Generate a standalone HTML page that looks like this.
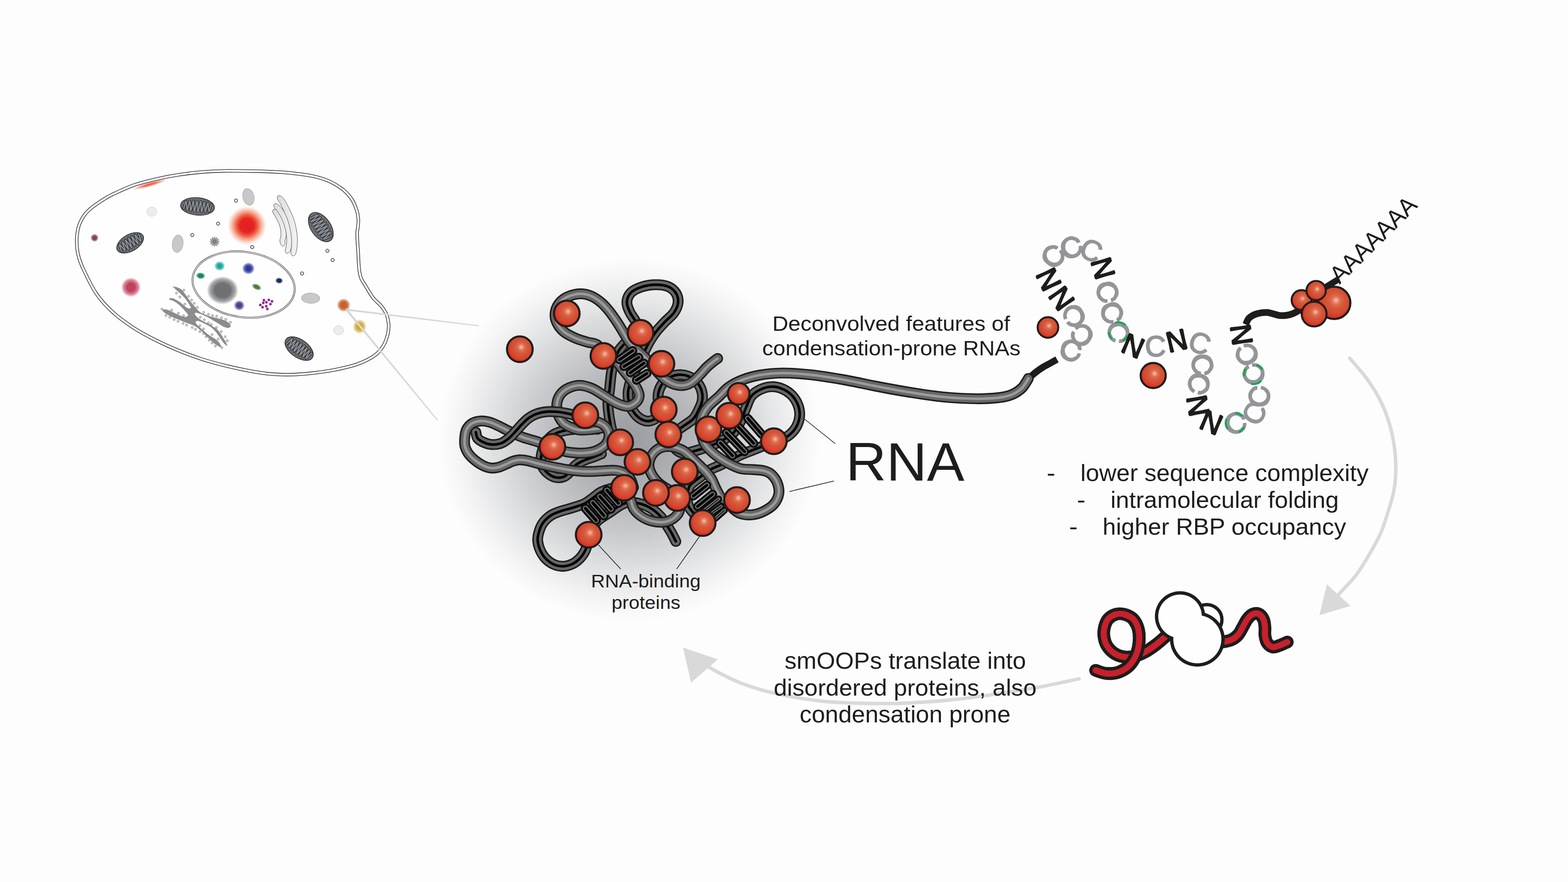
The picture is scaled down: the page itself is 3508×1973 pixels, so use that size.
<!DOCTYPE html><html><head><meta charset="utf-8"><title>Condensation-prone RNAs</title><style>html,body{margin:0;padding:0;background:#fdfdfd}body{width:3508px;height:1973px;overflow:hidden}svg{display:block}</style></head><body><svg width="3508" height="1973" viewBox="0 0 3508 1973"><defs><radialGradient id="gBlob" cx="0.5" cy="0.5" r="0.5"><stop offset="0" stop-color="#999ba0"/><stop offset="0.25" stop-color="#acaeb2"/><stop offset="0.5" stop-color="#c7c8cb"/><stop offset="0.75" stop-color="#e4e5e6"/><stop offset="0.9" stop-color="#f5f5f6"/><stop offset="1" stop-color="#fdfdfd"/></radialGradient><radialGradient id="gStreak"><stop offset="0" stop-color="#f0694e"/><stop offset="0.3" stop-color="#f0694e"/><stop offset="1" stop-color="#f0694e" stop-opacity="0"/></radialGradient><linearGradient id="gGolgi" x1="0" y1="0" x2="1" y2="0"><stop offset="0" stop-color="#dcdcdd"/><stop offset="1" stop-color="#f2f2f2"/></linearGradient><radialGradient id="gRed"><stop offset="0" stop-color="#e41e26"/><stop offset="0.36" stop-color="#e52421"/><stop offset="0.55" stop-color="#ee5a3c" stop-opacity="0.95"/><stop offset="0.8" stop-color="#f4a184" stop-opacity="0.6"/><stop offset="1" stop-color="#f9c9b4" stop-opacity="0"/></radialGradient><radialGradient id="gMauve"><stop offset="0" stop-color="#7c3f62"/><stop offset="0.4" stop-color="#7c3f62"/><stop offset="0.75" stop-color="#7c3f62" stop-opacity="0.6"/><stop offset="1" stop-color="#7c3f62" stop-opacity="0"/></radialGradient><radialGradient id="gPink"><stop offset="0" stop-color="#c1405b"/><stop offset="0.4" stop-color="#c1405b"/><stop offset="0.75" stop-color="#c1405b" stop-opacity="0.6"/><stop offset="1" stop-color="#c1405b" stop-opacity="0"/></radialGradient><radialGradient id="gTeal"><stop offset="0" stop-color="#17a7a0"/><stop offset="0.35" stop-color="#17a7a0"/><stop offset="0.73" stop-color="#17a7a0" stop-opacity="0.6"/><stop offset="1" stop-color="#17a7a0" stop-opacity="0"/></radialGradient><radialGradient id="gBlue"><stop offset="0" stop-color="#2c3a9c"/><stop offset="0.4" stop-color="#2c3a9c"/><stop offset="0.75" stop-color="#2c3a9c" stop-opacity="0.6"/><stop offset="1" stop-color="#2c3a9c" stop-opacity="0"/></radialGradient><radialGradient id="gGreen"><stop offset="0" stop-color="#15845f"/><stop offset="0.45" stop-color="#15845f"/><stop offset="0.78" stop-color="#15845f" stop-opacity="0.6"/><stop offset="1" stop-color="#15845f" stop-opacity="0"/></radialGradient><radialGradient id="gNavy"><stop offset="0" stop-color="#13305c"/><stop offset="0.5" stop-color="#13305c"/><stop offset="0.8" stop-color="#13305c" stop-opacity="0.6"/><stop offset="1" stop-color="#13305c" stop-opacity="0"/></radialGradient><radialGradient id="gOlive"><stop offset="0" stop-color="#4d7a3a"/><stop offset="0.45" stop-color="#4d7a3a"/><stop offset="0.78" stop-color="#4d7a3a" stop-opacity="0.6"/><stop offset="1" stop-color="#4d7a3a" stop-opacity="0"/></radialGradient><radialGradient id="gNucl"><stop offset="0" stop-color="#6f7073"/><stop offset="0.5" stop-color="#6f7073"/><stop offset="0.8" stop-color="#6f7073" stop-opacity="0.6"/><stop offset="1" stop-color="#6f7073" stop-opacity="0"/></radialGradient><radialGradient id="gPurple"><stop offset="0" stop-color="#4b3f8b"/><stop offset="0.4" stop-color="#4b3f8b"/><stop offset="0.75" stop-color="#4b3f8b" stop-opacity="0.6"/><stop offset="1" stop-color="#4b3f8b" stop-opacity="0"/></radialGradient><radialGradient id="gOrange"><stop offset="0" stop-color="#c8622b"/><stop offset="0.45" stop-color="#c8622b"/><stop offset="0.78" stop-color="#c8622b" stop-opacity="0.6"/><stop offset="1" stop-color="#c8622b" stop-opacity="0"/></radialGradient><radialGradient id="gYellow"><stop offset="0" stop-color="#d3a92f"/><stop offset="0.4" stop-color="#d3a92f"/><stop offset="0.75" stop-color="#d3a92f" stop-opacity="0.6"/><stop offset="1" stop-color="#d3a92f" stop-opacity="0"/></radialGradient><radialGradient id="gBall" cx="0.55" cy="0.43" r="0.6" fx="0.555" fy="0.42"><stop offset="0" stop-color="#f7c3ad"/><stop offset="0.07" stop-color="#f0a68d"/><stop offset="0.22" stop-color="#de6d50"/><stop offset="0.42" stop-color="#d6573a"/><stop offset="0.68" stop-color="#d44a30"/><stop offset="0.86" stop-color="#df3022"/><stop offset="1" stop-color="#e4251b"/></radialGradient></defs><rect width="3508" height="1973" fill="#fdfdfd"/>
<ellipse cx="1408" cy="984" rx="428" ry="408" fill="url(#gBlob)"/>
<path d="M171.6 539.9C171.5 531 172.7 522.3 173.9 515.5C175 508.7 176.3 504.8 178.7 499.1C181.1 493.5 184.5 487 188.3 481.7C192.2 476.4 195.5 472.6 201.9 467.2C208.2 461.8 218.4 454.8 226.6 449.4C234.8 444.1 238.9 441.1 251.3 435.1C263.7 429.2 284.4 419.5 301 413.7C317.5 407.9 334.1 404.1 350.7 400.3C367.2 396.5 383.8 393.4 400.4 390.9C417 388.3 433.6 386.3 450.2 384.9C466.8 383.5 479.3 382.7 500 382.4C520.8 382.1 554.1 382.5 574.9 382.9C595.7 383.3 612.4 384.2 624.8 384.9C637.3 385.6 637.2 385.4 649.7 386.9C662.1 388.4 685 390.8 699.4 393.8C713.8 396.9 724.3 400 735.8 405.1C747.3 410.3 759.6 417.9 768.2 424.8C776.8 431.7 782.6 438.9 787.6 446.6C792.6 454.3 795.9 463.6 798.2 470.9C800.6 478.2 801.1 484.6 801.6 490.2C802.1 495.9 801.5 499.8 801.1 504.8C800.7 509.7 799.4 514 799.1 519.9C798.9 525.8 799.3 533.4 799.6 540.1C799.9 546.9 800.5 550.6 801.1 560.2C801.7 569.8 802.1 587.7 803.1 597.8C804.1 607.9 804.9 614.1 807.3 621C809.7 627.8 812.9 631.4 817.5 639C822.2 646.6 829.3 659.2 835.2 666.8C841.1 674.3 847.8 678.2 852.7 684.3C857.7 690.5 862.1 697.3 864.8 703.6C867.6 710 868.4 718.2 869.1 722.5C869.9 726.9 869.9 725.3 869.6 729.8C869.3 734.2 869.2 741.9 867.2 749.2C865.2 756.5 862.4 765.8 857.5 773.5C852.7 781.1 848.1 788.2 838.3 795.1C828.6 802 813.8 809.4 799 814.8C784.2 820.1 766 823.8 749.4 827.2C732.9 830.5 716.3 832.8 699.7 834.6C683.1 836.4 666.5 837.9 650 838.1C633.4 838.3 616.9 837.8 600.3 836.1C583.7 834.5 567.1 831.3 550.5 828.2C533.9 825 517.3 821.3 500.7 817.2C484.1 813 467.5 808.6 450.9 803.2C434.3 797.8 417.7 791.6 401.1 784.8C384.5 778 367.9 770.7 351.3 762.4C334.7 754.1 318.1 745.8 301.6 735.1C285 724.3 266.4 711.1 252 697.9C237.5 684.7 226 672.4 214.9 655.9C203.8 639.4 191.8 613.2 185.1 598.8C178.5 584.4 177.1 579.2 174.8 569.4C172.6 559.5 171.8 548.9 171.6 539.9Z" fill="#fefefe" stroke="#3a3a39" stroke-width="7.5" stroke-linejoin="round"/>
<path d="M171.6 539.9C171.5 531 172.7 522.3 173.9 515.5C175 508.7 176.3 504.8 178.7 499.1C181.1 493.5 184.5 487 188.3 481.7C192.2 476.4 195.5 472.6 201.9 467.2C208.2 461.8 218.4 454.8 226.6 449.4C234.8 444.1 238.9 441.1 251.3 435.1C263.7 429.2 284.4 419.5 301 413.7C317.5 407.9 334.1 404.1 350.7 400.3C367.2 396.5 383.8 393.4 400.4 390.9C417 388.3 433.6 386.3 450.2 384.9C466.8 383.5 479.3 382.7 500 382.4C520.8 382.1 554.1 382.5 574.9 382.9C595.7 383.3 612.4 384.2 624.8 384.9C637.3 385.6 637.2 385.4 649.7 386.9C662.1 388.4 685 390.8 699.4 393.8C713.8 396.9 724.3 400 735.8 405.1C747.3 410.3 759.6 417.9 768.2 424.8C776.8 431.7 782.6 438.9 787.6 446.6C792.6 454.3 795.9 463.6 798.2 470.9C800.6 478.2 801.1 484.6 801.6 490.2C802.1 495.9 801.5 499.8 801.1 504.8C800.7 509.7 799.4 514 799.1 519.9C798.9 525.8 799.3 533.4 799.6 540.1C799.9 546.9 800.5 550.6 801.1 560.2C801.7 569.8 802.1 587.7 803.1 597.8C804.1 607.9 804.9 614.1 807.3 621C809.7 627.8 812.9 631.4 817.5 639C822.2 646.6 829.3 659.2 835.2 666.8C841.1 674.3 847.8 678.2 852.7 684.3C857.7 690.5 862.1 697.3 864.8 703.6C867.6 710 868.4 718.2 869.1 722.5C869.9 726.9 869.9 725.3 869.6 729.8C869.3 734.2 869.2 741.9 867.2 749.2C865.2 756.5 862.4 765.8 857.5 773.5C852.7 781.1 848.1 788.2 838.3 795.1C828.6 802 813.8 809.4 799 814.8C784.2 820.1 766 823.8 749.4 827.2C732.9 830.5 716.3 832.8 699.7 834.6C683.1 836.4 666.5 837.9 650 838.1C633.4 838.3 616.9 837.8 600.3 836.1C583.7 834.5 567.1 831.3 550.5 828.2C533.9 825 517.3 821.3 500.7 817.2C484.1 813 467.5 808.6 450.9 803.2C434.3 797.8 417.7 791.6 401.1 784.8C384.5 778 367.9 770.7 351.3 762.4C334.7 754.1 318.1 745.8 301.6 735.1C285 724.3 266.4 711.1 252 697.9C237.5 684.7 226 672.4 214.9 655.9C203.8 639.4 191.8 613.2 185.1 598.8C178.5 584.4 177.1 579.2 174.8 569.4C172.6 559.5 171.8 548.9 171.6 539.9Z" fill="none" stroke="#fefefe" stroke-width="4.4" stroke-linejoin="round"/>
<ellipse cx="335" cy="412.5" rx="40" ry="5.5" fill="url(#gStreak)" transform="rotate(-16 335 412.5)"/>
<ellipse cx="545" cy="636.6" rx="115" ry="73" transform="rotate(8.4 545 636.6)" fill="#fefefe" stroke="#3a3a39" stroke-width="3.9"/>
<ellipse cx="545" cy="636.6" rx="115" ry="73" transform="rotate(8.4 545 636.6)" fill="none" stroke="#fefefe" stroke-width="1.7"/>
<ellipse cx="555.8" cy="440.5" rx="12.5" ry="19" transform="rotate(-14 555.8 440.5)" fill="#c7c8ca" stroke="#a3a4a6" stroke-width="1"/>
<ellipse cx="397.5" cy="545.2" rx="12" ry="19.5" transform="rotate(8 397.5 545.2)" fill="#c7c8ca" stroke="#a3a4a6" stroke-width="1"/>
<ellipse cx="695" cy="667" rx="20.5" ry="11.5" transform="rotate(2 695 667)" fill="#c7c8ca" stroke="#a3a4a6" stroke-width="1"/>
<ellipse cx="339.5" cy="473.5" rx="11.2" ry="10.4" fill="#ececec" stroke="#d2d2d3" stroke-width="1"/>
<ellipse cx="757.5" cy="738.8" rx="11.2" ry="10.4" fill="#ececec" stroke="#d2d2d3" stroke-width="1"/>
<circle cx="528" cy="448.8" r="3.6" fill="#e6e6dc" stroke="#2e2e2c" stroke-width="1.3"/>
<circle cx="488" cy="500.2" r="3.6" fill="#e6e6dc" stroke="#2e2e2c" stroke-width="1.3"/>
<circle cx="430.2" cy="525.8" r="3.6" fill="#e6e6dc" stroke="#2e2e2c" stroke-width="1.3"/>
<circle cx="564.2" cy="552.8" r="3.6" fill="#e6e6dc" stroke="#2e2e2c" stroke-width="1.3"/>
<circle cx="732.5" cy="561" r="3.6" fill="#e6e6dc" stroke="#2e2e2c" stroke-width="1.3"/>
<circle cx="744.2" cy="581.8" r="3.6" fill="#e6e6dc" stroke="#2e2e2c" stroke-width="1.3"/>
<circle cx="675.8" cy="611.8" r="3.6" fill="#e6e6dc" stroke="#2e2e2c" stroke-width="1.3"/>
<g transform="translate(441.9 461.8) rotate(5)"><ellipse rx="38" ry="19.5" fill="#6e6f72" stroke="#2a2a2a" stroke-width="1.6"/><path d="M-30.4 7.9C-29.7 5 -27.7 -9.5 -26.3 -9.1C-25 -8.7 -23.6 10.3 -22.3 10C-20.9 9.8 -19.6 -11 -18.2 -10.8C-16.9 -10.6 -15.5 11.5 -14.2 11.3C-12.8 11.2 -11.5 -11.8 -10.1 -11.7C-8.8 -11.6 -7.4 12 -6.1 11.9C-4.7 11.9 -3.4 -12.1 -2 -12.1C-0.7 -12.1 0.7 12.1 2 12.1C3.4 12.1 4.7 -11.9 6.1 -11.9C7.4 -12 8.8 11.6 10.1 11.7C11.5 11.8 12.8 -11.2 14.2 -11.3C15.5 -11.5 16.9 10.6 18.2 10.8C19.6 11 20.9 -9.8 22.3 -10C23.6 -10.3 25 8.7 26.3 9.1C27.7 9.5 29.7 -5 30.4 -7.9" fill="none" stroke="#2a2a2a" stroke-width="5.4" stroke-linecap="round" stroke-linejoin="round"/><path d="M-30.4 7.9C-29.7 5 -27.7 -9.5 -26.3 -9.1C-25 -8.7 -23.6 10.3 -22.3 10C-20.9 9.8 -19.6 -11 -18.2 -10.8C-16.9 -10.6 -15.5 11.5 -14.2 11.3C-12.8 11.2 -11.5 -11.8 -10.1 -11.7C-8.8 -11.6 -7.4 12 -6.1 11.9C-4.7 11.9 -3.4 -12.1 -2 -12.1C-0.7 -12.1 0.7 12.1 2 12.1C3.4 12.1 4.7 -11.9 6.1 -11.9C7.4 -12 8.8 11.6 10.1 11.7C11.5 11.8 12.8 -11.2 14.2 -11.3C15.5 -11.5 16.9 10.6 18.2 10.8C19.6 11 20.9 -9.8 22.3 -10C23.6 -10.3 25 8.7 26.3 9.1C27.7 9.5 29.7 -5 30.4 -7.9" fill="none" stroke="#8a9097" stroke-width="2.8" stroke-linecap="round" stroke-linejoin="round"/></g>
<g transform="translate(291.2 543.2) rotate(-30)"><ellipse rx="33" ry="18.5" fill="#6e6f72" stroke="#2a2a2a" stroke-width="1.6"/><path d="M-26.4 7.5C-25.7 4.8 -23.7 -9.2 -22.3 -8.8C-21 -8.4 -19.6 10 -18.3 9.8C-16.9 9.5 -15.6 -10.7 -14.2 -10.5C-12.9 -10.3 -11.5 11.1 -10.2 11C-8.8 10.8 -7.4 -11.4 -6.1 -11.3C-4.7 -11.2 -3.4 11.5 -2 11.5C-0.7 11.4 0.7 -11.4 2 -11.5C3.4 -11.5 4.7 11.2 6.1 11.3C7.4 11.4 8.8 -10.8 10.2 -11C11.5 -11.1 12.9 10.3 14.2 10.5C15.6 10.7 16.9 -9.5 18.3 -9.8C19.6 -10 21 8.4 22.3 8.8C23.7 9.2 25.7 -4.8 26.4 -7.5" fill="none" stroke="#2a2a2a" stroke-width="5.4" stroke-linecap="round" stroke-linejoin="round"/><path d="M-26.4 7.5C-25.7 4.8 -23.7 -9.2 -22.3 -8.8C-21 -8.4 -19.6 10 -18.3 9.8C-16.9 9.5 -15.6 -10.7 -14.2 -10.5C-12.9 -10.3 -11.5 11.1 -10.2 11C-8.8 10.8 -7.4 -11.4 -6.1 -11.3C-4.7 -11.2 -3.4 11.5 -2 11.5C-0.7 11.4 0.7 -11.4 2 -11.5C3.4 -11.5 4.7 11.2 6.1 11.3C7.4 11.4 8.8 -10.8 10.2 -11C11.5 -11.1 12.9 10.3 14.2 10.5C15.6 10.7 16.9 -9.5 18.3 -9.8C19.6 -10 21 8.4 22.3 8.8C23.7 9.2 25.7 -4.8 26.4 -7.5" fill="none" stroke="#8a9097" stroke-width="2.8" stroke-linecap="round" stroke-linejoin="round"/></g>
<g transform="translate(717.8 508) rotate(55)"><ellipse rx="37" ry="22" fill="#6e6f72" stroke="#2a2a2a" stroke-width="1.6"/><path d="M-29.6 8.9C-28.9 5.7 -27 -10.7 -25.7 -10.3C-24.3 -9.9 -23 11.6 -21.7 11.3C-20.4 11 -19.1 -12.4 -17.8 -12.1C-16.4 -11.9 -15.1 12.9 -13.8 12.8C-12.5 12.6 -11.2 -13.3 -9.9 -13.2C-8.6 -13.1 -7.2 13.6 -5.9 13.5C-4.6 13.4 -3.3 -13.6 -2 -13.6C-0.7 -13.6 0.7 13.6 2 13.6C3.3 13.6 4.6 -13.4 5.9 -13.5C7.2 -13.6 8.6 13.1 9.9 13.2C11.2 13.3 12.5 -12.6 13.8 -12.8C15.1 -12.9 16.4 11.9 17.8 12.1C19.1 12.4 20.4 -11 21.7 -11.3C23 -11.6 24.3 9.9 25.7 10.3C27 10.7 28.9 -5.7 29.6 -8.9" fill="none" stroke="#2a2a2a" stroke-width="5.4" stroke-linecap="round" stroke-linejoin="round"/><path d="M-29.6 8.9C-28.9 5.7 -27 -10.7 -25.7 -10.3C-24.3 -9.9 -23 11.6 -21.7 11.3C-20.4 11 -19.1 -12.4 -17.8 -12.1C-16.4 -11.9 -15.1 12.9 -13.8 12.8C-12.5 12.6 -11.2 -13.3 -9.9 -13.2C-8.6 -13.1 -7.2 13.6 -5.9 13.5C-4.6 13.4 -3.3 -13.6 -2 -13.6C-0.7 -13.6 0.7 13.6 2 13.6C3.3 13.6 4.6 -13.4 5.9 -13.5C7.2 -13.6 8.6 13.1 9.9 13.2C11.2 13.3 12.5 -12.6 13.8 -12.8C15.1 -12.9 16.4 11.9 17.8 12.1C19.1 12.4 20.4 -11 21.7 -11.3C23 -11.6 24.3 9.9 25.7 10.3C27 10.7 28.9 -5.7 29.6 -8.9" fill="none" stroke="#8a9097" stroke-width="2.8" stroke-linecap="round" stroke-linejoin="round"/></g>
<g transform="translate(669.2 779.8) rotate(35)"><ellipse rx="36" ry="20" fill="#6e6f72" stroke="#2a2a2a" stroke-width="1.6"/><path d="M-28.8 8.1C-28.2 5.2 -26.2 -9.7 -25 -9.3C-23.7 -9 -22.4 10.6 -21.1 10.3C-19.8 10 -18.6 -11.3 -17.3 -11C-16 -10.8 -14.7 11.8 -13.4 11.6C-12.2 11.4 -10.9 -12.1 -9.6 -12C-8.3 -11.9 -7 12.3 -5.8 12.3C-4.5 12.2 -3.2 -12.4 -1.9 -12.4C-0.6 -12.4 0.6 12.4 1.9 12.4C3.2 12.4 4.5 -12.2 5.8 -12.3C7 -12.3 8.3 11.9 9.6 12C10.9 12.1 12.2 -11.4 13.4 -11.6C14.7 -11.8 16 10.8 17.3 11C18.6 11.3 19.8 -10 21.1 -10.3C22.4 -10.6 23.7 9 25 9.3C26.2 9.7 28.2 -5.2 28.8 -8.1" fill="none" stroke="#2a2a2a" stroke-width="5.4" stroke-linecap="round" stroke-linejoin="round"/><path d="M-28.8 8.1C-28.2 5.2 -26.2 -9.7 -25 -9.3C-23.7 -9 -22.4 10.6 -21.1 10.3C-19.8 10 -18.6 -11.3 -17.3 -11C-16 -10.8 -14.7 11.8 -13.4 11.6C-12.2 11.4 -10.9 -12.1 -9.6 -12C-8.3 -11.9 -7 12.3 -5.8 12.3C-4.5 12.2 -3.2 -12.4 -1.9 -12.4C-0.6 -12.4 0.6 12.4 1.9 12.4C3.2 12.4 4.5 -12.2 5.8 -12.3C7 -12.3 8.3 11.9 9.6 12C10.9 12.1 12.2 -11.4 13.4 -11.6C14.7 -11.8 16 10.8 17.3 11C18.6 11.3 19.8 -10 21.1 -10.3C22.4 -10.6 23.7 9 25 9.3C26.2 9.7 28.2 -5.2 28.8 -8.1" fill="none" stroke="#8a9097" stroke-width="2.8" stroke-linecap="round" stroke-linejoin="round"/></g>
<path d="M611.8 468.5C610.5 469.4 609.8 472.4 610.5 475.2C611.3 478 614.3 481.5 616.4 485.4C618.5 489.3 621.4 493.8 623.3 498.5C625.2 503.2 627 508.8 627.8 513.5C628.7 518.3 628.6 522.9 628.4 527.1C628.1 531.2 626.1 535 626.1 538.4C626.1 541.7 627 544.9 628.3 547C629.5 549.1 632.2 551.2 633.8 551C635.4 550.7 637.1 547.4 637.7 545.5C638.3 543.5 637 542 637.4 539.1C637.8 536.2 639.8 532.6 640.1 527.9C640.5 523.3 640.6 517.1 639.7 511.5C638.7 505.8 636.5 499.3 634.2 494C632 488.7 628.7 483.6 626.1 479.6C623.5 475.6 620.9 471.7 618.5 469.8C616.1 468 613.1 467.6 611.8 468.5Z" fill="url(#gGolgi)" stroke="#4a4a49" stroke-width="1"/>
<path d="M613.6 456.3C612.4 457.4 612.2 460.7 613.3 463.4C614.4 466 617.8 468.6 620.3 472.2C622.8 475.9 625.8 480.4 628.3 485.3C630.8 490.3 633.4 496 635.3 502C637.3 507.9 639.1 514.7 640.1 521C641.1 527.3 641.5 534.1 641.4 539.8C641.3 545.5 639.9 551.6 639.3 555C638.7 558.3 637.7 558.1 637.9 560C638.1 561.9 639 565.9 640.5 566.6C642 567.2 645.4 565.5 647.1 564C648.8 562.5 649.6 561.5 650.7 557.5C651.8 553.6 653.3 546.6 653.6 540.2C653.9 533.8 653.5 526.1 652.4 519C651.3 512 649.4 504.6 647.2 498C645 491.5 642.1 485.1 639.2 479.7C636.3 474.2 632.8 469.1 629.7 465.3C626.6 461.4 623.4 458.1 620.7 456.6C618 455.1 614.9 455.2 613.6 456.3Z" fill="url(#gGolgi)" stroke="#4a4a49" stroke-width="1"/>
<path d="M621.8 438.2C620.3 439.3 619.8 442.8 620.7 445.7C621.6 448.7 624.7 451.2 627.1 455.7C629.5 460.2 632.5 466.7 635.3 472.8C638 478.9 641.4 485.8 643.7 492.3C645.9 498.7 647.5 505 648.9 511.4C650.3 517.8 651.4 524.1 651.9 530.5C652.5 536.9 652.4 543.6 652.2 549.6C652 555.5 650.2 562.4 650.7 566.2C651.2 570 653.4 572.1 655.2 572.3C657 572.6 659.7 571.4 661.3 567.8C662.9 564.1 664.2 556.8 664.8 550.4C665.4 544 665.5 536.5 665.1 529.5C664.6 522.5 663.5 515.6 662.1 508.6C660.6 501.6 658.8 494.6 656.3 487.7C653.9 480.8 650.3 473.6 647.2 467.2C644.2 460.8 640.9 454 637.9 449.3C634.9 444.6 632 441.1 629.3 439.3C626.6 437.4 623.2 437.1 621.8 438.2Z" fill="url(#gGolgi)" stroke="#4a4a49" stroke-width="1"/>
<circle cx="552.5" cy="504.5" r="44" fill="url(#gRed)"/>
<ellipse cx="211.5" cy="532" rx="9" ry="9" fill="url(#gMauve)"/>
<ellipse cx="293" cy="642.5" rx="22" ry="22" fill="url(#gPink)"/>
<ellipse cx="491.5" cy="595" rx="12" ry="11" fill="url(#gTeal)"/>
<ellipse cx="555.8" cy="600.5" rx="14" ry="13.5" fill="url(#gBlue)"/>
<ellipse cx="448.8" cy="616.8" rx="10.5" ry="7.5" fill="url(#gGreen)" transform="rotate(5 448.8 616.8)"/>
<ellipse cx="624.5" cy="627.8" rx="8.5" ry="6.8" fill="url(#gNavy)" transform="rotate(5 624.5 627.8)"/>
<ellipse cx="574.2" cy="641.8" rx="11.5" ry="6.5" fill="url(#gOlive)" transform="rotate(25 574.2 641.8)"/>
<ellipse cx="498" cy="649.5" rx="35.5" ry="31.5" fill="url(#gNucl)"/>
<ellipse cx="535.2" cy="683.2" rx="12" ry="11.5" fill="url(#gPurple)"/>
<ellipse cx="768.8" cy="682.5" rx="15" ry="15" fill="url(#gOrange)"/>
<ellipse cx="804.5" cy="730.5" rx="15" ry="16" fill="url(#gYellow)"/>
<circle cx="590.5" cy="671.5" r="2.9" fill="#93278f"/>
<circle cx="601.5" cy="670.8" r="2.9" fill="#93278f"/>
<circle cx="608.5" cy="674" r="2.9" fill="#93278f"/>
<circle cx="589" cy="677.5" r="2.9" fill="#93278f"/>
<circle cx="596" cy="676.2" r="2.9" fill="#93278f"/>
<circle cx="605" cy="680.2" r="2.9" fill="#93278f"/>
<circle cx="582.5" cy="682.2" r="2.9" fill="#93278f"/>
<circle cx="595.5" cy="685" r="2.9" fill="#93278f"/>
<circle cx="587.5" cy="687.2" r="2.9" fill="#93278f"/>
<circle cx="598.2" cy="691.2" r="2.9" fill="#93278f"/>
<path d="M492.5 540.5L487.9 542.6L490.8 546.8L485.8 546.3L486.2 551.3L482.1 548.4L480 553L477.9 548.4L473.8 551.3L474.2 546.3L469.2 546.8L472.1 542.6L467.5 540.5L472.1 538.4L469.2 534.2L474.2 534.7L473.8 529.7L477.9 532.6L480 528L482.1 532.6L486.2 529.7L485.8 534.7L490.8 534.2L487.9 538.4Z" fill="#9b9c9e"/>
<circle cx="480" cy="540.5" r="5" fill="#808184"/>
<path d="M386.9 640.7C388.3 640.6 394.8 642.1 398.1 643.4C401.4 644.6 404 645.8 406.7 648.2C409.4 650.6 411.7 654.4 414.2 657.8C416.7 661.2 419.2 665.1 421.7 668.5C424.2 671.9 426.6 675.1 429.1 678.1C431.6 681.2 434.3 684 436.6 686.7C438.9 689.4 440.9 692 443 694.2C445.2 696.3 447.1 698.1 449.5 699.5C451.8 700.9 453.9 701.5 457 702.7C460 704 464.1 705.8 467.6 707C471.2 708.2 474.8 708.8 478.3 709.7C481.9 710.6 485.5 711.4 489 712.4C492.6 713.3 496.5 714.3 499.7 715.6C502.9 716.8 505.8 718.2 508.3 719.8C510.8 721.4 513.5 723.6 514.7 725.2C516 726.8 516.1 728.1 515.8 729.5C515.4 730.8 514.3 732.7 512.6 733.2C510.8 733.7 507.6 733.3 505.1 732.7C502.6 732 500.3 730.9 497.6 729.5C494.9 728 492.2 726.1 489 724.1C485.8 722.2 481.9 719.8 478.3 717.7C474.8 715.6 471.2 713.2 467.6 711.3C464.1 709.3 460.5 707.5 457 705.9C453.4 704.3 449.3 702.7 446.3 701.7C443.2 700.6 440.6 699.5 438.8 699.5C437 699.5 435.6 700.4 435.6 701.7C435.6 702.9 437 705 438.8 707C440.6 709 443.2 711.3 446.3 713.4C449.3 715.6 453.4 717.9 457 719.8C460.5 721.8 464.1 723.2 467.6 725.2C471.2 727.1 475 729.3 478.3 731.6C481.7 733.9 485.3 736.4 488 739.1C490.6 741.8 492.4 744.8 494.4 747.6C496.3 750.5 498 753.4 499.7 756.2C501.5 759.1 503.7 762.1 505.1 764.8C506.5 767.4 507.9 770.8 508.3 772.2C508.6 773.7 508.3 773.9 507.2 773.3C506.1 772.8 503.8 771.2 501.9 769C499.9 766.9 497.6 763.5 495.5 760.5C493.3 757.5 491.4 754.1 489 750.9C486.7 747.6 484.2 744.3 481.6 741.2C478.9 738.2 476.2 735.2 473 732.7C469.8 730.2 465.9 728.2 462.3 726.3C458.7 724.3 454.8 722.3 451.6 720.9C448.4 719.5 445.4 717.9 443 717.7C440.7 717.5 438.2 718.6 437.7 719.8C437.2 721.1 438.4 723.2 439.8 725.2C441.3 727.1 443.8 729.3 446.3 731.6C448.8 733.9 452 736.6 454.8 739.1C457.7 741.6 460.3 744.3 463.4 746.6C466.4 748.9 470 751 473 753C476 755 478.9 756.4 481.6 758.3C484.2 760.3 487.1 762.6 489 764.8C491 766.9 492.4 769.2 493.3 771.2C494.2 773.1 495.1 776 494.4 776.5C493.7 777.1 491.2 775.5 489 774.4C486.9 773.3 484.2 772.1 481.6 770.1C478.9 768.1 476 765.5 473 762.6C470 759.8 466.4 756 463.4 753C460.3 750 457.7 747.1 454.8 744.4C452 741.8 449.1 739.3 446.3 737C443.4 734.6 440.6 732.3 437.7 730.5C434.8 728.8 432.2 727.5 429.1 726.3C426.1 725 422.9 724.3 419.5 723C416.1 721.8 412.4 720.2 408.8 718.8C405.3 717.3 401.7 715.9 398.1 714.5C394.6 713.1 391 711.8 387.4 710.2C383.9 708.6 379.9 706.6 376.7 704.9C373.5 703.1 370.4 701.3 368.2 699.5C366 697.7 363.7 695.4 363.4 694.2C363 692.9 364.2 692.2 366 692C367.9 691.9 371.4 692.2 374.6 693.1C377.8 694 381.7 695.8 385.3 697.4C388.9 699 392.6 701.1 396 702.7C399.4 704.3 402.6 705.9 405.6 707C408.6 708.1 411.9 709.1 414.2 709.1C416.5 709.1 418.4 707.9 419.5 707C420.6 706.1 421.1 705.2 420.6 703.8C420.1 702.4 418.1 700.6 416.3 698.4C414.5 696.3 412.4 693.6 409.9 691C407.4 688.3 404.2 684.9 401.3 682.4C398.5 679.9 395.6 677.8 392.8 676C389.9 674.2 386.6 672.7 384.2 671.7C381.8 670.7 378.9 670.9 378.3 670.1C377.8 669.3 379.5 667.3 381 666.9C382.5 666.5 384.9 666.6 387.4 667.4C389.9 668.2 393 669.9 396 671.7C399 673.5 402.6 675.8 405.6 678.1C408.6 680.4 411.5 683.7 414.2 685.6C416.8 687.6 419.5 689.4 421.7 689.9C423.8 690.4 426.5 689.9 427 688.8C427.5 687.8 426.1 685.8 424.9 683.5C423.6 681.2 421.7 678 419.5 674.9C417.4 671.9 414.7 668.3 412 665.3C409.4 662.3 406.3 659.4 403.5 656.7C400.6 654.1 397.2 651.4 394.9 649.3C392.6 647.1 390.9 645.3 389.6 643.9C388.2 642.5 385.5 640.8 386.9 640.7Z" fill="#8b8c8f"/>
<circle cx="411.5" cy="649" r="2.1" fill="#fefefe" stroke="#3a3a3a" stroke-width="0.9"/>
<circle cx="394.7" cy="655.7" r="2.1" fill="#fefefe" stroke="#3a3a3a" stroke-width="0.9"/>
<circle cx="402.4" cy="664.4" r="2.1" fill="#fefefe" stroke="#3a3a3a" stroke-width="0.9"/>
<circle cx="421.7" cy="662.7" r="2.1" fill="#fefefe" stroke="#3a3a3a" stroke-width="0.9"/>
<circle cx="428.6" cy="671.2" r="2.1" fill="#fefefe" stroke="#3a3a3a" stroke-width="0.9"/>
<circle cx="434.5" cy="678.4" r="2.1" fill="#fefefe" stroke="#3a3a3a" stroke-width="0.9"/>
<circle cx="413.6" cy="680.3" r="2.1" fill="#fefefe" stroke="#3a3a3a" stroke-width="0.9"/>
<circle cx="441.4" cy="687.5" r="2.1" fill="#fefefe" stroke="#3a3a3a" stroke-width="0.9"/>
<circle cx="362.3" cy="691.3" r="2.1" fill="#fefefe" stroke="#3a3a3a" stroke-width="0.9"/>
<circle cx="384.2" cy="693.4" r="2.1" fill="#fefefe" stroke="#3a3a3a" stroke-width="0.9"/>
<circle cx="399" cy="700.6" r="2.1" fill="#fefefe" stroke="#3a3a3a" stroke-width="0.9"/>
<circle cx="410.7" cy="706.1" r="2.1" fill="#fefefe" stroke="#3a3a3a" stroke-width="0.9"/>
<circle cx="371.2" cy="705.7" r="2.1" fill="#fefefe" stroke="#3a3a3a" stroke-width="0.9"/>
<circle cx="379.7" cy="709.7" r="2.1" fill="#fefefe" stroke="#3a3a3a" stroke-width="0.9"/>
<circle cx="389.6" cy="715" r="2.1" fill="#fefefe" stroke="#3a3a3a" stroke-width="0.9"/>
<circle cx="398.3" cy="718.8" r="2.1" fill="#fefefe" stroke="#3a3a3a" stroke-width="0.9"/>
<circle cx="409.6" cy="723.3" r="2.1" fill="#fefefe" stroke="#3a3a3a" stroke-width="0.9"/>
<circle cx="417.4" cy="727.3" r="2.1" fill="#fefefe" stroke="#3a3a3a" stroke-width="0.9"/>
<circle cx="430.2" cy="732.5" r="2.1" fill="#fefefe" stroke="#3a3a3a" stroke-width="0.9"/>
<circle cx="437.3" cy="736.7" r="2.1" fill="#fefefe" stroke="#3a3a3a" stroke-width="0.9"/>
<circle cx="447.1" cy="741.8" r="2.1" fill="#fefefe" stroke="#3a3a3a" stroke-width="0.9"/>
<circle cx="455.6" cy="746.4" r="2.1" fill="#fefefe" stroke="#3a3a3a" stroke-width="0.9"/>
<circle cx="461.2" cy="753.2" r="2.1" fill="#fefefe" stroke="#3a3a3a" stroke-width="0.9"/>
<circle cx="468.3" cy="760.7" r="2.1" fill="#fefefe" stroke="#3a3a3a" stroke-width="0.9"/>
<circle cx="474.4" cy="767.1" r="2.1" fill="#fefefe" stroke="#3a3a3a" stroke-width="0.9"/>
<circle cx="481.8" cy="774.2" r="2.1" fill="#fefefe" stroke="#3a3a3a" stroke-width="0.9"/>
<circle cx="496.3" cy="777.6" r="2.1" fill="#fefefe" stroke="#3a3a3a" stroke-width="0.9"/>
<circle cx="455.7" cy="698.7" r="2.1" fill="#fefefe" stroke="#3a3a3a" stroke-width="0.9"/>
<circle cx="466.4" cy="702.9" r="2.1" fill="#fefefe" stroke="#3a3a3a" stroke-width="0.9"/>
<circle cx="475.5" cy="705.7" r="2.1" fill="#fefefe" stroke="#3a3a3a" stroke-width="0.9"/>
<circle cx="484.8" cy="707.3" r="2.1" fill="#fefefe" stroke="#3a3a3a" stroke-width="0.9"/>
<circle cx="495.5" cy="711" r="2.1" fill="#fefefe" stroke="#3a3a3a" stroke-width="0.9"/>
<circle cx="505.3" cy="714.5" r="2.1" fill="#fefefe" stroke="#3a3a3a" stroke-width="0.9"/>
<circle cx="515.5" cy="720.9" r="2.1" fill="#fefefe" stroke="#3a3a3a" stroke-width="0.9"/>
<circle cx="448.2" cy="709.6" r="2.1" fill="#fefefe" stroke="#3a3a3a" stroke-width="0.9"/>
<circle cx="457" cy="715.3" r="2.1" fill="#fefefe" stroke="#3a3a3a" stroke-width="0.9"/>
<circle cx="466.4" cy="722.2" r="2.1" fill="#fefefe" stroke="#3a3a3a" stroke-width="0.9"/>
<circle cx="472.6" cy="725.7" r="2.1" fill="#fefefe" stroke="#3a3a3a" stroke-width="0.9"/>
<circle cx="484.4" cy="732.7" r="2.1" fill="#fefefe" stroke="#3a3a3a" stroke-width="0.9"/>
<circle cx="495.1" cy="741.6" r="2.1" fill="#fefefe" stroke="#3a3a3a" stroke-width="0.9"/>
<circle cx="503.7" cy="753.2" r="2.1" fill="#fefefe" stroke="#3a3a3a" stroke-width="0.9"/>
<circle cx="508.5" cy="762.3" r="2.1" fill="#fefefe" stroke="#3a3a3a" stroke-width="0.9"/>
<circle cx="447.1" cy="728.6" r="2.1" fill="#fefefe" stroke="#3a3a3a" stroke-width="0.9"/>
<circle cx="455.6" cy="735.7" r="2.1" fill="#fefefe" stroke="#3a3a3a" stroke-width="0.9"/>
<circle cx="474.4" cy="748.3" r="2.1" fill="#fefefe" stroke="#3a3a3a" stroke-width="0.9"/>
<circle cx="488" cy="758.6" r="2.1" fill="#fefefe" stroke="#3a3a3a" stroke-width="0.9"/>
<path d="M774 690.5L1071 727.6L1071.3 730L775 694.8Z" fill="#d6d7d8"/>
<path d="M773.3 694.2L777 691.3L979.8 939.2L977.8 940.8Z" fill="#d6d7d8"/>
<path d="M2300 848C2302.8 845.5 2311.2 837.5 2316.9 833C2322.6 828.5 2328.3 824.5 2334 821C2339.7 817.5 2345.9 814.5 2351 811.7C2356.1 808.9 2362.5 805.3 2364.8 804" fill="none" stroke="#1d1d1b" stroke-width="15" stroke-linecap="butt"/>
<g fill="none" stroke-linecap="round" stroke-linejoin="round"><path d="M1345.5 1015.2C1342.8 1016.3 1335.8 1019.3 1328.8 1021.9C1321.9 1024.5 1310.8 1027.9 1303.8 1031.1C1296.9 1034.3 1291.8 1037.1 1287.1 1041.1C1282.4 1045.1 1279.6 1051.1 1275.4 1055.3C1271.3 1059.5 1267.1 1064 1262.1 1066.1C1257.1 1068.3 1250.9 1069.1 1245.4 1068.3C1239.8 1067.5 1233.7 1064.7 1228.7 1061.1C1223.7 1057.6 1218.4 1052.1 1215.3 1046.9C1212.3 1041.8 1210.9 1035.8 1210.3 1030.3C1209.8 1024.7 1210.6 1019.7 1212 1013.6C1213.4 1007.4 1215.9 999.1 1218.7 993.5C1221.4 988 1224.8 984.1 1228.7 980.2C1232.6 976.3 1236.5 972.9 1242 970.2C1247.6 967.4 1254.6 965.1 1262.1 963.5C1269.6 961.8 1278.8 960.8 1287.1 960.1C1295.5 959.4 1303.8 959.3 1312.2 959.3C1320.5 959.3 1333 960 1337.2 960.1" stroke="#1d1d1b" stroke-width="24.2"/><path d="M1345.5 1015.2C1342.8 1016.3 1335.8 1019.3 1328.8 1021.9C1321.9 1024.5 1310.8 1027.9 1303.8 1031.1C1296.9 1034.3 1291.8 1037.1 1287.1 1041.1C1282.4 1045.1 1279.6 1051.1 1275.4 1055.3C1271.3 1059.5 1267.1 1064 1262.1 1066.1C1257.1 1068.3 1250.9 1069.1 1245.4 1068.3C1239.8 1067.5 1233.7 1064.7 1228.7 1061.1C1223.7 1057.6 1218.4 1052.1 1215.3 1046.9C1212.3 1041.8 1210.9 1035.8 1210.3 1030.3C1209.8 1024.7 1210.6 1019.7 1212 1013.6C1213.4 1007.4 1215.9 999.1 1218.7 993.5C1221.4 988 1224.8 984.1 1228.7 980.2C1232.6 976.3 1236.5 972.9 1242 970.2C1247.6 967.4 1254.6 965.1 1262.1 963.5C1269.6 961.8 1278.8 960.8 1287.1 960.1C1295.5 959.4 1303.8 959.3 1312.2 959.3C1320.5 959.3 1333 960 1337.2 960.1" stroke="#676768" stroke-width="17.4"/><path d="M1345.5 1015.2C1342.8 1016.3 1335.8 1019.3 1328.8 1021.9C1321.9 1024.5 1310.8 1027.9 1303.8 1031.1C1296.9 1034.3 1291.8 1037.1 1287.1 1041.1C1282.4 1045.1 1279.6 1051.1 1275.4 1055.3C1271.3 1059.5 1267.1 1064 1262.1 1066.1C1257.1 1068.3 1250.9 1069.1 1245.4 1068.3C1239.8 1067.5 1233.7 1064.7 1228.7 1061.1C1223.7 1057.6 1218.4 1052.1 1215.3 1046.9C1212.3 1041.8 1210.9 1035.8 1210.3 1030.3C1209.8 1024.7 1210.6 1019.7 1212 1013.6C1213.4 1007.4 1215.9 999.1 1218.7 993.5C1221.4 988 1224.8 984.1 1228.7 980.2C1232.6 976.3 1236.5 972.9 1242 970.2C1247.6 967.4 1254.6 965.1 1262.1 963.5C1269.6 961.8 1278.8 960.8 1287.1 960.1C1295.5 959.4 1303.8 959.3 1312.2 959.3C1320.5 959.3 1333 960 1337.2 960.1" stroke="#000000" stroke-width="5.7"/><path d="M1407 757C1405.7 758.7 1402.7 762.6 1399 767C1395.3 771.4 1389 777.4 1385 783.5C1381 789.6 1377.6 796.8 1375 803.5C1372.4 810.2 1371 816.1 1369.5 823.6C1368 831.1 1367 840.4 1366 848.7C1365 857.1 1364.3 866.8 1363.5 873.7C1362.7 880.6 1361.6 884.8 1361 890C1360.4 895.2 1359.8 898.3 1360 905C1360.2 911.7 1361.5 922.5 1362.5 930C1363.5 937.5 1364.8 943.7 1366 950C1367.2 956.3 1369.3 965 1370 968" stroke="#1d1d1b" stroke-width="24.2"/><path d="M1407 757C1405.7 758.7 1402.7 762.6 1399 767C1395.3 771.4 1389 777.4 1385 783.5C1381 789.6 1377.6 796.8 1375 803.5C1372.4 810.2 1371 816.1 1369.5 823.6C1368 831.1 1367 840.4 1366 848.7C1365 857.1 1364.3 866.8 1363.5 873.7C1362.7 880.6 1361.6 884.8 1361 890C1360.4 895.2 1359.8 898.3 1360 905C1360.2 911.7 1361.5 922.5 1362.5 930C1363.5 937.5 1364.8 943.7 1366 950C1367.2 956.3 1369.3 965 1370 968" stroke="#676768" stroke-width="17.4"/><path d="M1407 757C1405.7 758.7 1402.7 762.6 1399 767C1395.3 771.4 1389 777.4 1385 783.5C1381 789.6 1377.6 796.8 1375 803.5C1372.4 810.2 1371 816.1 1369.5 823.6C1368 831.1 1367 840.4 1366 848.7C1365 857.1 1364.3 866.8 1363.5 873.7C1362.7 880.6 1361.6 884.8 1361 890C1360.4 895.2 1359.8 898.3 1360 905C1360.2 911.7 1361.5 922.5 1362.5 930C1363.5 937.5 1364.8 943.7 1366 950C1367.2 956.3 1369.3 965 1370 968" stroke="#000000" stroke-width="5.7"/><path d="M1428 815C1426.3 818.3 1421 828.3 1418 835C1415 841.7 1412.2 847.5 1410 855C1407.8 862.5 1405.2 871.7 1405 880C1404.8 888.3 1406.5 897.5 1409 905C1411.5 912.5 1415.7 919.5 1420 925C1424.3 930.5 1429.7 935.2 1435 938C1440.3 940.8 1446.2 942.7 1452 942C1457.8 941.3 1464.8 938 1470 934C1475.2 930 1480.8 920.7 1483 918" stroke="#1d1d1b" stroke-width="24.2"/><path d="M1428 815C1426.3 818.3 1421 828.3 1418 835C1415 841.7 1412.2 847.5 1410 855C1407.8 862.5 1405.2 871.7 1405 880C1404.8 888.3 1406.5 897.5 1409 905C1411.5 912.5 1415.7 919.5 1420 925C1424.3 930.5 1429.7 935.2 1435 938C1440.3 940.8 1446.2 942.7 1452 942C1457.8 941.3 1464.8 938 1470 934C1475.2 930 1480.8 920.7 1483 918" stroke="#676768" stroke-width="17.4"/><path d="M1428 815C1426.3 818.3 1421 828.3 1418 835C1415 841.7 1412.2 847.5 1410 855C1407.8 862.5 1405.2 871.7 1405 880C1404.8 888.3 1406.5 897.5 1409 905C1411.5 912.5 1415.7 919.5 1420 925C1424.3 930.5 1429.7 935.2 1435 938C1440.3 940.8 1446.2 942.7 1452 942C1457.8 941.3 1464.8 938 1470 934C1475.2 930 1480.8 920.7 1483 918" stroke="#000000" stroke-width="5.7"/><path d="M1485 918C1484 917.1 1480.8 916.5 1478.8 912.9C1476.8 909.3 1473.9 902.2 1472.9 896.6C1471.9 891 1471.9 885 1472.9 879.4C1473.9 873.8 1476 868 1478.8 863.1C1481.6 858.2 1485.6 853.5 1489.9 849.9C1494.2 846.2 1499.6 843.2 1504.9 841.2C1510.2 839.2 1516.2 838.2 1521.9 838.2C1527.6 838.2 1533.6 839.2 1538.9 841.2C1544.2 843.2 1549.6 846.2 1553.9 849.9C1558.2 853.5 1562.2 858.2 1565 863.1C1567.8 868 1569.9 873.8 1570.9 879.4C1571.9 885 1571.9 891 1570.9 896.6C1569.9 902.2 1568.2 906.3 1565 912.9C1561.8 919.5 1557.8 929.4 1552 936C1546.2 942.6 1537.4 947.2 1530 952.5C1522.6 957.8 1513.3 963.9 1507.5 967.5C1501.7 971.1 1497.1 972.9 1495 974" stroke="#1d1d1b" stroke-width="24.2"/><path d="M1485 918C1484 917.1 1480.8 916.5 1478.8 912.9C1476.8 909.3 1473.9 902.2 1472.9 896.6C1471.9 891 1471.9 885 1472.9 879.4C1473.9 873.8 1476 868 1478.8 863.1C1481.6 858.2 1485.6 853.5 1489.9 849.9C1494.2 846.2 1499.6 843.2 1504.9 841.2C1510.2 839.2 1516.2 838.2 1521.9 838.2C1527.6 838.2 1533.6 839.2 1538.9 841.2C1544.2 843.2 1549.6 846.2 1553.9 849.9C1558.2 853.5 1562.2 858.2 1565 863.1C1567.8 868 1569.9 873.8 1570.9 879.4C1571.9 885 1571.9 891 1570.9 896.6C1569.9 902.2 1568.2 906.3 1565 912.9C1561.8 919.5 1557.8 929.4 1552 936C1546.2 942.6 1537.4 947.2 1530 952.5C1522.6 957.8 1513.3 963.9 1507.5 967.5C1501.7 971.1 1497.1 972.9 1495 974" stroke="#676768" stroke-width="17.4"/><path d="M1485 918C1484 917.1 1480.8 916.5 1478.8 912.9C1476.8 909.3 1473.9 902.2 1472.9 896.6C1471.9 891 1471.9 885 1472.9 879.4C1473.9 873.8 1476 868 1478.8 863.1C1481.6 858.2 1485.6 853.5 1489.9 849.9C1494.2 846.2 1499.6 843.2 1504.9 841.2C1510.2 839.2 1516.2 838.2 1521.9 838.2C1527.6 838.2 1533.6 839.2 1538.9 841.2C1544.2 843.2 1549.6 846.2 1553.9 849.9C1558.2 853.5 1562.2 858.2 1565 863.1C1567.8 868 1569.9 873.8 1570.9 879.4C1571.9 885 1571.9 891 1570.9 896.6C1569.9 902.2 1568.2 906.3 1565 912.9C1561.8 919.5 1557.8 929.4 1552 936C1546.2 942.6 1537.4 947.2 1530 952.5C1522.6 957.8 1513.3 963.9 1507.5 967.5C1501.7 971.1 1497.1 972.9 1495 974" stroke="#000000" stroke-width="5.7"/><path d="M1435 750C1432.9 745 1426.9 728.8 1422.5 720C1418.1 711.2 1412.1 705 1408.8 697.5C1405.4 690 1401.9 682.3 1402.5 675C1403.1 667.7 1406.7 659.4 1412.5 653.8C1418.3 648.1 1428.3 644.1 1437.5 641.2C1446.7 638.4 1457.9 636.8 1467.5 636.8C1477.1 636.8 1487.5 638 1495 641.2C1502.5 644.5 1508.8 650.2 1512.5 656.2C1516.2 662.3 1517.8 670.2 1517 677.5C1516.2 684.8 1512.4 692.9 1507.5 700C1502.6 707.1 1494.2 712.9 1487.5 720C1480.8 727.1 1473.3 735 1467.5 742.5C1461.7 750 1456.7 757.9 1452.5 765C1448.3 772.1 1445.4 779.2 1442.5 785C1439.6 790.8 1436.2 797.5 1435 800" stroke="#1d1d1b" stroke-width="24.2"/><path d="M1435 750C1432.9 745 1426.9 728.8 1422.5 720C1418.1 711.2 1412.1 705 1408.8 697.5C1405.4 690 1401.9 682.3 1402.5 675C1403.1 667.7 1406.7 659.4 1412.5 653.8C1418.3 648.1 1428.3 644.1 1437.5 641.2C1446.7 638.4 1457.9 636.8 1467.5 636.8C1477.1 636.8 1487.5 638 1495 641.2C1502.5 644.5 1508.8 650.2 1512.5 656.2C1516.2 662.3 1517.8 670.2 1517 677.5C1516.2 684.8 1512.4 692.9 1507.5 700C1502.6 707.1 1494.2 712.9 1487.5 720C1480.8 727.1 1473.3 735 1467.5 742.5C1461.7 750 1456.7 757.9 1452.5 765C1448.3 772.1 1445.4 779.2 1442.5 785C1439.6 790.8 1436.2 797.5 1435 800" stroke="#676768" stroke-width="17.4"/><path d="M1435 750C1432.9 745 1426.9 728.8 1422.5 720C1418.1 711.2 1412.1 705 1408.8 697.5C1405.4 690 1401.9 682.3 1402.5 675C1403.1 667.7 1406.7 659.4 1412.5 653.8C1418.3 648.1 1428.3 644.1 1437.5 641.2C1446.7 638.4 1457.9 636.8 1467.5 636.8C1477.1 636.8 1487.5 638 1495 641.2C1502.5 644.5 1508.8 650.2 1512.5 656.2C1516.2 662.3 1517.8 670.2 1517 677.5C1516.2 684.8 1512.4 692.9 1507.5 700C1502.6 707.1 1494.2 712.9 1487.5 720C1480.8 727.1 1473.3 735 1467.5 742.5C1461.7 750 1456.7 757.9 1452.5 765C1448.3 772.1 1445.4 779.2 1442.5 785C1439.6 790.8 1436.2 797.5 1435 800" stroke="#000000" stroke-width="5.7"/><path d="M1390 1085C1386.8 1086.1 1376.8 1089.6 1371 1091.5C1365.2 1093.4 1359.8 1094.5 1355 1096.2C1350.2 1098 1347 1098.9 1342 1102C1337 1105.1 1330.6 1111 1325 1115C1319.4 1119 1314.3 1123.2 1308.5 1126.2C1302.7 1129.2 1295.5 1131.1 1290 1133C1284.5 1134.9 1281.8 1135.6 1275.5 1137.5C1269.2 1139.4 1259.9 1141.5 1252.5 1144.2C1245.1 1147 1237.7 1149.2 1231.2 1153.8C1224.8 1158.2 1218.1 1164.8 1213.8 1171.2C1209.4 1177.7 1206.8 1186 1205 1192.5C1203.2 1199 1202.4 1203.5 1203 1210C1203.6 1216.5 1205.7 1224.6 1208.8 1231.2C1211.8 1237.9 1216 1244.7 1221.2 1250C1226.5 1255.3 1233.5 1260.2 1240 1263C1246.5 1265.8 1253.1 1267 1260 1266.8C1266.9 1266.5 1275 1264.2 1281.2 1261.2C1287.5 1258.2 1292.9 1253.5 1297.5 1248.8C1302.1 1244 1305.8 1238.5 1308.8 1232.5C1311.8 1226.5 1313.2 1220 1315.5 1212.5C1317.8 1205 1319.1 1195.3 1322.5 1187.5C1325.9 1179.7 1329.2 1172.5 1336 1165.8C1342.8 1159 1354.8 1152.7 1363.5 1146.8C1372.2 1140.8 1381.2 1133.8 1388.2 1130C1395.3 1126.2 1399.9 1124.6 1406 1123.8C1412.1 1122.9 1418.5 1123.8 1425 1125C1431.5 1126.2 1438.8 1128.5 1445 1131.2C1451.2 1134 1457.1 1137.3 1462.5 1141.2C1467.9 1145.2 1472.9 1149.8 1477.5 1155C1482.1 1160.2 1485.8 1166.2 1490 1172.5C1494.2 1178.8 1498.8 1186 1502.5 1192.5C1506.2 1199 1510.4 1208.1 1512 1211.2" stroke="#1d1d1b" stroke-width="24.2"/><path d="M1390 1085C1386.8 1086.1 1376.8 1089.6 1371 1091.5C1365.2 1093.4 1359.8 1094.5 1355 1096.2C1350.2 1098 1347 1098.9 1342 1102C1337 1105.1 1330.6 1111 1325 1115C1319.4 1119 1314.3 1123.2 1308.5 1126.2C1302.7 1129.2 1295.5 1131.1 1290 1133C1284.5 1134.9 1281.8 1135.6 1275.5 1137.5C1269.2 1139.4 1259.9 1141.5 1252.5 1144.2C1245.1 1147 1237.7 1149.2 1231.2 1153.8C1224.8 1158.2 1218.1 1164.8 1213.8 1171.2C1209.4 1177.7 1206.8 1186 1205 1192.5C1203.2 1199 1202.4 1203.5 1203 1210C1203.6 1216.5 1205.7 1224.6 1208.8 1231.2C1211.8 1237.9 1216 1244.7 1221.2 1250C1226.5 1255.3 1233.5 1260.2 1240 1263C1246.5 1265.8 1253.1 1267 1260 1266.8C1266.9 1266.5 1275 1264.2 1281.2 1261.2C1287.5 1258.2 1292.9 1253.5 1297.5 1248.8C1302.1 1244 1305.8 1238.5 1308.8 1232.5C1311.8 1226.5 1313.2 1220 1315.5 1212.5C1317.8 1205 1319.1 1195.3 1322.5 1187.5C1325.9 1179.7 1329.2 1172.5 1336 1165.8C1342.8 1159 1354.8 1152.7 1363.5 1146.8C1372.2 1140.8 1381.2 1133.8 1388.2 1130C1395.3 1126.2 1399.9 1124.6 1406 1123.8C1412.1 1122.9 1418.5 1123.8 1425 1125C1431.5 1126.2 1438.8 1128.5 1445 1131.2C1451.2 1134 1457.1 1137.3 1462.5 1141.2C1467.9 1145.2 1472.9 1149.8 1477.5 1155C1482.1 1160.2 1485.8 1166.2 1490 1172.5C1494.2 1178.8 1498.8 1186 1502.5 1192.5C1506.2 1199 1510.4 1208.1 1512 1211.2" stroke="#676768" stroke-width="17.4"/><path d="M1390 1085C1386.8 1086.1 1376.8 1089.6 1371 1091.5C1365.2 1093.4 1359.8 1094.5 1355 1096.2C1350.2 1098 1347 1098.9 1342 1102C1337 1105.1 1330.6 1111 1325 1115C1319.4 1119 1314.3 1123.2 1308.5 1126.2C1302.7 1129.2 1295.5 1131.1 1290 1133C1284.5 1134.9 1281.8 1135.6 1275.5 1137.5C1269.2 1139.4 1259.9 1141.5 1252.5 1144.2C1245.1 1147 1237.7 1149.2 1231.2 1153.8C1224.8 1158.2 1218.1 1164.8 1213.8 1171.2C1209.4 1177.7 1206.8 1186 1205 1192.5C1203.2 1199 1202.4 1203.5 1203 1210C1203.6 1216.5 1205.7 1224.6 1208.8 1231.2C1211.8 1237.9 1216 1244.7 1221.2 1250C1226.5 1255.3 1233.5 1260.2 1240 1263C1246.5 1265.8 1253.1 1267 1260 1266.8C1266.9 1266.5 1275 1264.2 1281.2 1261.2C1287.5 1258.2 1292.9 1253.5 1297.5 1248.8C1302.1 1244 1305.8 1238.5 1308.8 1232.5C1311.8 1226.5 1313.2 1220 1315.5 1212.5C1317.8 1205 1319.1 1195.3 1322.5 1187.5C1325.9 1179.7 1329.2 1172.5 1336 1165.8C1342.8 1159 1354.8 1152.7 1363.5 1146.8C1372.2 1140.8 1381.2 1133.8 1388.2 1130C1395.3 1126.2 1399.9 1124.6 1406 1123.8C1412.1 1122.9 1418.5 1123.8 1425 1125C1431.5 1126.2 1438.8 1128.5 1445 1131.2C1451.2 1134 1457.1 1137.3 1462.5 1141.2C1467.9 1145.2 1472.9 1149.8 1477.5 1155C1482.1 1160.2 1485.8 1166.2 1490 1172.5C1494.2 1178.8 1498.8 1186 1502.5 1192.5C1506.2 1199 1510.4 1208.1 1512 1211.2" stroke="#000000" stroke-width="5.7"/><path d="M1495 975C1496.3 977.8 1500.2 987 1503 992C1505.8 997 1508.7 1001.6 1512 1005C1515.3 1008.4 1518.8 1011 1522.6 1012.5C1526.4 1014 1530.4 1014.4 1535 1014C1539.6 1013.6 1543.3 1011.9 1550 1010C1556.7 1008.1 1566.7 1005.3 1575 1002.5C1583.3 999.7 1592.5 996.2 1600 993C1607.5 989.8 1613 987.3 1620 983C1627 978.7 1635.7 974.2 1642 967C1648.3 959.8 1653.5 949.2 1658 940C1662.5 930.8 1665.2 920.9 1669 912C1672.8 903.1 1675.2 893.4 1680.5 886.7C1685.8 880 1693 875.3 1700.5 871.7C1708 868.1 1717.2 865.3 1725.5 865C1733.8 864.7 1742.8 866.7 1750.6 870C1758.4 873.3 1766.5 878.9 1772.3 885C1778.1 891.1 1782.8 899.3 1785.6 906.8C1788.4 914.3 1789.5 922.2 1789 930C1788.5 937.8 1785.9 946.5 1782.3 953.5C1778.7 960.5 1773.1 966.9 1767.3 971.9C1761.5 976.9 1753.2 981.1 1747.2 983.6C1741.2 986.1 1737.8 984.8 1731.4 987C1725 989.2 1716.7 993.7 1708.8 997C1700.9 1000.3 1692.1 1003.7 1683.8 1007C1675.5 1010.3 1666.1 1013.8 1658.8 1017C1651.5 1020.2 1647.7 1022.2 1640 1026C1632.3 1029.8 1621.2 1035.8 1612.5 1040C1603.8 1044.2 1595.2 1046.8 1588 1051C1580.8 1055.2 1574.7 1060.9 1569.2 1065C1563.7 1069.1 1559.3 1072.2 1555 1075.8C1550.7 1079.3 1546.1 1082.2 1543.4 1086.3C1540.7 1090.4 1539.7 1095.1 1538.7 1100.4C1537.7 1105.7 1537.1 1112.5 1537.5 1118C1537.9 1123.5 1538.8 1128.6 1541 1133.3C1543.2 1138 1546.9 1141.9 1550.4 1146.2C1553.9 1150.5 1558.4 1155 1562 1159C1565.6 1163 1570.3 1168.2 1572 1170" stroke="#1d1d1b" stroke-width="24.2"/><path d="M1495 975C1496.3 977.8 1500.2 987 1503 992C1505.8 997 1508.7 1001.6 1512 1005C1515.3 1008.4 1518.8 1011 1522.6 1012.5C1526.4 1014 1530.4 1014.4 1535 1014C1539.6 1013.6 1543.3 1011.9 1550 1010C1556.7 1008.1 1566.7 1005.3 1575 1002.5C1583.3 999.7 1592.5 996.2 1600 993C1607.5 989.8 1613 987.3 1620 983C1627 978.7 1635.7 974.2 1642 967C1648.3 959.8 1653.5 949.2 1658 940C1662.5 930.8 1665.2 920.9 1669 912C1672.8 903.1 1675.2 893.4 1680.5 886.7C1685.8 880 1693 875.3 1700.5 871.7C1708 868.1 1717.2 865.3 1725.5 865C1733.8 864.7 1742.8 866.7 1750.6 870C1758.4 873.3 1766.5 878.9 1772.3 885C1778.1 891.1 1782.8 899.3 1785.6 906.8C1788.4 914.3 1789.5 922.2 1789 930C1788.5 937.8 1785.9 946.5 1782.3 953.5C1778.7 960.5 1773.1 966.9 1767.3 971.9C1761.5 976.9 1753.2 981.1 1747.2 983.6C1741.2 986.1 1737.8 984.8 1731.4 987C1725 989.2 1716.7 993.7 1708.8 997C1700.9 1000.3 1692.1 1003.7 1683.8 1007C1675.5 1010.3 1666.1 1013.8 1658.8 1017C1651.5 1020.2 1647.7 1022.2 1640 1026C1632.3 1029.8 1621.2 1035.8 1612.5 1040C1603.8 1044.2 1595.2 1046.8 1588 1051C1580.8 1055.2 1574.7 1060.9 1569.2 1065C1563.7 1069.1 1559.3 1072.2 1555 1075.8C1550.7 1079.3 1546.1 1082.2 1543.4 1086.3C1540.7 1090.4 1539.7 1095.1 1538.7 1100.4C1537.7 1105.7 1537.1 1112.5 1537.5 1118C1537.9 1123.5 1538.8 1128.6 1541 1133.3C1543.2 1138 1546.9 1141.9 1550.4 1146.2C1553.9 1150.5 1558.4 1155 1562 1159C1565.6 1163 1570.3 1168.2 1572 1170" stroke="#676768" stroke-width="17.4"/><path d="M1495 975C1496.3 977.8 1500.2 987 1503 992C1505.8 997 1508.7 1001.6 1512 1005C1515.3 1008.4 1518.8 1011 1522.6 1012.5C1526.4 1014 1530.4 1014.4 1535 1014C1539.6 1013.6 1543.3 1011.9 1550 1010C1556.7 1008.1 1566.7 1005.3 1575 1002.5C1583.3 999.7 1592.5 996.2 1600 993C1607.5 989.8 1613 987.3 1620 983C1627 978.7 1635.7 974.2 1642 967C1648.3 959.8 1653.5 949.2 1658 940C1662.5 930.8 1665.2 920.9 1669 912C1672.8 903.1 1675.2 893.4 1680.5 886.7C1685.8 880 1693 875.3 1700.5 871.7C1708 868.1 1717.2 865.3 1725.5 865C1733.8 864.7 1742.8 866.7 1750.6 870C1758.4 873.3 1766.5 878.9 1772.3 885C1778.1 891.1 1782.8 899.3 1785.6 906.8C1788.4 914.3 1789.5 922.2 1789 930C1788.5 937.8 1785.9 946.5 1782.3 953.5C1778.7 960.5 1773.1 966.9 1767.3 971.9C1761.5 976.9 1753.2 981.1 1747.2 983.6C1741.2 986.1 1737.8 984.8 1731.4 987C1725 989.2 1716.7 993.7 1708.8 997C1700.9 1000.3 1692.1 1003.7 1683.8 1007C1675.5 1010.3 1666.1 1013.8 1658.8 1017C1651.5 1020.2 1647.7 1022.2 1640 1026C1632.3 1029.8 1621.2 1035.8 1612.5 1040C1603.8 1044.2 1595.2 1046.8 1588 1051C1580.8 1055.2 1574.7 1060.9 1569.2 1065C1563.7 1069.1 1559.3 1072.2 1555 1075.8C1550.7 1079.3 1546.1 1082.2 1543.4 1086.3C1540.7 1090.4 1539.7 1095.1 1538.7 1100.4C1537.7 1105.7 1537.1 1112.5 1537.5 1118C1537.9 1123.5 1538.8 1128.6 1541 1133.3C1543.2 1138 1546.9 1141.9 1550.4 1146.2C1553.9 1150.5 1558.4 1155 1562 1159C1565.6 1163 1570.3 1168.2 1572 1170" stroke="#000000" stroke-width="5.7"/><path d="M1368 800C1370 801.7 1376 805.8 1380.3 810.3C1384.6 814.8 1389.1 821.4 1393.6 827C1398 832.6 1402.8 838.4 1407 843.7C1411.2 849 1415.3 853.7 1418.6 858.7C1421.9 863.7 1425.1 869.2 1427 873.7C1428.9 878.2 1430.5 881.8 1430 886C1429.5 890.2 1428.2 895.2 1424 899C1419.8 902.8 1412.3 908.5 1405 909C1397.7 909.5 1389.2 906.2 1380 902C1370.8 897.8 1359.2 889.5 1350 884C1340.8 878.5 1333.8 872.7 1325 869C1316.2 865.3 1306.3 862.2 1297.5 862C1288.7 861.8 1279.2 864.7 1272 868C1264.8 871.3 1258.3 876.3 1254 882C1249.7 887.7 1247 894.8 1246 902C1245 909.2 1245.8 917.8 1248 925C1250.2 932.2 1254.5 940 1259 945C1263.5 950 1268.9 952.2 1275 955C1281.1 957.8 1287.9 960.8 1295.5 961.8C1303.1 962.8 1312.2 961.7 1320.5 961C1328.8 960.3 1341.3 958.2 1345.5 957.6" stroke="#1d1d1b" stroke-width="24.2"/><path d="M1368 800C1370 801.7 1376 805.8 1380.3 810.3C1384.6 814.8 1389.1 821.4 1393.6 827C1398 832.6 1402.8 838.4 1407 843.7C1411.2 849 1415.3 853.7 1418.6 858.7C1421.9 863.7 1425.1 869.2 1427 873.7C1428.9 878.2 1430.5 881.8 1430 886C1429.5 890.2 1428.2 895.2 1424 899C1419.8 902.8 1412.3 908.5 1405 909C1397.7 909.5 1389.2 906.2 1380 902C1370.8 897.8 1359.2 889.5 1350 884C1340.8 878.5 1333.8 872.7 1325 869C1316.2 865.3 1306.3 862.2 1297.5 862C1288.7 861.8 1279.2 864.7 1272 868C1264.8 871.3 1258.3 876.3 1254 882C1249.7 887.7 1247 894.8 1246 902C1245 909.2 1245.8 917.8 1248 925C1250.2 932.2 1254.5 940 1259 945C1263.5 950 1268.9 952.2 1275 955C1281.1 957.8 1287.9 960.8 1295.5 961.8C1303.1 962.8 1312.2 961.7 1320.5 961C1328.8 960.3 1341.3 958.2 1345.5 957.6" stroke="#676768" stroke-width="17.4"/><path d="M1368 800C1370 801.7 1376 805.8 1380.3 810.3C1384.6 814.8 1389.1 821.4 1393.6 827C1398 832.6 1402.8 838.4 1407 843.7C1411.2 849 1415.3 853.7 1418.6 858.7C1421.9 863.7 1425.1 869.2 1427 873.7C1428.9 878.2 1430.5 881.8 1430 886C1429.5 890.2 1428.2 895.2 1424 899C1419.8 902.8 1412.3 908.5 1405 909C1397.7 909.5 1389.2 906.2 1380 902C1370.8 897.8 1359.2 889.5 1350 884C1340.8 878.5 1333.8 872.7 1325 869C1316.2 865.3 1306.3 862.2 1297.5 862C1288.7 861.8 1279.2 864.7 1272 868C1264.8 871.3 1258.3 876.3 1254 882C1249.7 887.7 1247 894.8 1246 902C1245 909.2 1245.8 917.8 1248 925C1250.2 932.2 1254.5 940 1259 945C1263.5 950 1268.9 952.2 1275 955C1281.1 957.8 1287.9 960.8 1295.5 961.8C1303.1 962.8 1312.2 961.7 1320.5 961C1328.8 960.3 1341.3 958.2 1345.5 957.6" stroke="#9b9b9c" stroke-width="5.7"/><path d="M1328.8 941.8C1330.8 942.3 1336.6 943.4 1340.5 945.1C1344.4 946.8 1348.9 948.7 1352.2 951.8C1355.6 954.8 1358.9 959 1360.6 963.5C1362.2 967.9 1363.1 973.5 1362.2 978.5C1361.4 983.5 1359.2 989.1 1355.6 993.5C1351.9 998 1346.4 1002.1 1340.5 1005.2C1334.7 1008.3 1328 1010.5 1320.5 1011.9C1313 1013.3 1304.6 1013.8 1295.5 1013.6C1286.3 1013.3 1275.4 1012.4 1265.4 1010.2C1255.4 1008 1245.7 1003.8 1235.4 1000.2C1225.1 996.6 1211.7 991.3 1203.6 988.5C1195.6 985.7 1192.5 985.2 1186.9 983.5C1181.4 981.8 1175.8 980.4 1170.3 978.5C1164.7 976.5 1159.7 974.6 1153.6 971.8C1147.4 969 1140.2 965.1 1133.5 961.8C1126.8 958.5 1119.9 954.7 1113.5 951.8C1107.1 948.9 1101.5 945.9 1095.1 944.3C1088.7 942.6 1081.5 941.4 1075.1 941.8C1068.7 942.2 1061.7 944 1056.7 946.8C1051.7 949.6 1047.8 954 1045 958.5C1042.3 962.9 1041.2 967.1 1040.4 973.5C1039.5 979.9 1038.7 989.9 1040 996.9C1041.4 1003.8 1044.5 1009.7 1048.4 1015.2C1052.3 1020.8 1057.8 1025.8 1063.4 1030.3C1069 1034.7 1075.9 1039.2 1081.8 1041.9C1087.6 1044.7 1092.9 1046.4 1098.5 1046.9C1104 1047.5 1109.6 1046.7 1115.2 1045.3C1120.7 1043.9 1126.6 1040.8 1131.9 1038.6C1137.1 1036.4 1141.9 1033.6 1146.9 1031.9C1151.9 1030.3 1156.6 1028.9 1161.9 1028.6C1167.2 1028.3 1171.6 1028.9 1178.6 1030.3C1185.6 1031.6 1195.3 1034.8 1203.6 1036.9C1212 1039 1220.3 1041 1228.7 1042.8C1237 1044.6 1245.4 1046.2 1253.7 1047.8C1262.1 1049.3 1270.4 1050.8 1278.8 1052C1287.1 1053.1 1295.5 1054 1303.8 1054.5C1312.2 1054.9 1320.5 1054.7 1328.8 1054.5C1337.2 1054.2 1346.4 1053.2 1353.9 1052.8C1361.4 1052.4 1367.8 1051.5 1373.9 1052C1380 1052.4 1385.6 1053.3 1390.6 1055.3C1395.6 1057.2 1400.4 1060.3 1404 1063.6C1407.6 1067 1410.1 1070.9 1412.3 1075.3C1414.5 1079.8 1416.5 1087.8 1417.3 1090.4" stroke="#1d1d1b" stroke-width="24.2"/><path d="M1328.8 941.8C1330.8 942.3 1336.6 943.4 1340.5 945.1C1344.4 946.8 1348.9 948.7 1352.2 951.8C1355.6 954.8 1358.9 959 1360.6 963.5C1362.2 967.9 1363.1 973.5 1362.2 978.5C1361.4 983.5 1359.2 989.1 1355.6 993.5C1351.9 998 1346.4 1002.1 1340.5 1005.2C1334.7 1008.3 1328 1010.5 1320.5 1011.9C1313 1013.3 1304.6 1013.8 1295.5 1013.6C1286.3 1013.3 1275.4 1012.4 1265.4 1010.2C1255.4 1008 1245.7 1003.8 1235.4 1000.2C1225.1 996.6 1211.7 991.3 1203.6 988.5C1195.6 985.7 1192.5 985.2 1186.9 983.5C1181.4 981.8 1175.8 980.4 1170.3 978.5C1164.7 976.5 1159.7 974.6 1153.6 971.8C1147.4 969 1140.2 965.1 1133.5 961.8C1126.8 958.5 1119.9 954.7 1113.5 951.8C1107.1 948.9 1101.5 945.9 1095.1 944.3C1088.7 942.6 1081.5 941.4 1075.1 941.8C1068.7 942.2 1061.7 944 1056.7 946.8C1051.7 949.6 1047.8 954 1045 958.5C1042.3 962.9 1041.2 967.1 1040.4 973.5C1039.5 979.9 1038.7 989.9 1040 996.9C1041.4 1003.8 1044.5 1009.7 1048.4 1015.2C1052.3 1020.8 1057.8 1025.8 1063.4 1030.3C1069 1034.7 1075.9 1039.2 1081.8 1041.9C1087.6 1044.7 1092.9 1046.4 1098.5 1046.9C1104 1047.5 1109.6 1046.7 1115.2 1045.3C1120.7 1043.9 1126.6 1040.8 1131.9 1038.6C1137.1 1036.4 1141.9 1033.6 1146.9 1031.9C1151.9 1030.3 1156.6 1028.9 1161.9 1028.6C1167.2 1028.3 1171.6 1028.9 1178.6 1030.3C1185.6 1031.6 1195.3 1034.8 1203.6 1036.9C1212 1039 1220.3 1041 1228.7 1042.8C1237 1044.6 1245.4 1046.2 1253.7 1047.8C1262.1 1049.3 1270.4 1050.8 1278.8 1052C1287.1 1053.1 1295.5 1054 1303.8 1054.5C1312.2 1054.9 1320.5 1054.7 1328.8 1054.5C1337.2 1054.2 1346.4 1053.2 1353.9 1052.8C1361.4 1052.4 1367.8 1051.5 1373.9 1052C1380 1052.4 1385.6 1053.3 1390.6 1055.3C1395.6 1057.2 1400.4 1060.3 1404 1063.6C1407.6 1067 1410.1 1070.9 1412.3 1075.3C1414.5 1079.8 1416.5 1087.8 1417.3 1090.4" stroke="#676768" stroke-width="17.4"/><path d="M1328.8 941.8C1330.8 942.3 1336.6 943.4 1340.5 945.1C1344.4 946.8 1348.9 948.7 1352.2 951.8C1355.6 954.8 1358.9 959 1360.6 963.5C1362.2 967.9 1363.1 973.5 1362.2 978.5C1361.4 983.5 1359.2 989.1 1355.6 993.5C1351.9 998 1346.4 1002.1 1340.5 1005.2C1334.7 1008.3 1328 1010.5 1320.5 1011.9C1313 1013.3 1304.6 1013.8 1295.5 1013.6C1286.3 1013.3 1275.4 1012.4 1265.4 1010.2C1255.4 1008 1245.7 1003.8 1235.4 1000.2C1225.1 996.6 1211.7 991.3 1203.6 988.5C1195.6 985.7 1192.5 985.2 1186.9 983.5C1181.4 981.8 1175.8 980.4 1170.3 978.5C1164.7 976.5 1159.7 974.6 1153.6 971.8C1147.4 969 1140.2 965.1 1133.5 961.8C1126.8 958.5 1119.9 954.7 1113.5 951.8C1107.1 948.9 1101.5 945.9 1095.1 944.3C1088.7 942.6 1081.5 941.4 1075.1 941.8C1068.7 942.2 1061.7 944 1056.7 946.8C1051.7 949.6 1047.8 954 1045 958.5C1042.3 962.9 1041.2 967.1 1040.4 973.5C1039.5 979.9 1038.7 989.9 1040 996.9C1041.4 1003.8 1044.5 1009.7 1048.4 1015.2C1052.3 1020.8 1057.8 1025.8 1063.4 1030.3C1069 1034.7 1075.9 1039.2 1081.8 1041.9C1087.6 1044.7 1092.9 1046.4 1098.5 1046.9C1104 1047.5 1109.6 1046.7 1115.2 1045.3C1120.7 1043.9 1126.6 1040.8 1131.9 1038.6C1137.1 1036.4 1141.9 1033.6 1146.9 1031.9C1151.9 1030.3 1156.6 1028.9 1161.9 1028.6C1167.2 1028.3 1171.6 1028.9 1178.6 1030.3C1185.6 1031.6 1195.3 1034.8 1203.6 1036.9C1212 1039 1220.3 1041 1228.7 1042.8C1237 1044.6 1245.4 1046.2 1253.7 1047.8C1262.1 1049.3 1270.4 1050.8 1278.8 1052C1287.1 1053.1 1295.5 1054 1303.8 1054.5C1312.2 1054.9 1320.5 1054.7 1328.8 1054.5C1337.2 1054.2 1346.4 1053.2 1353.9 1052.8C1361.4 1052.4 1367.8 1051.5 1373.9 1052C1380 1052.4 1385.6 1053.3 1390.6 1055.3C1395.6 1057.2 1400.4 1060.3 1404 1063.6C1407.6 1067 1410.1 1070.9 1412.3 1075.3C1414.5 1079.8 1416.5 1087.8 1417.3 1090.4" stroke="#9b9b9c" stroke-width="5.7"/><path d="M1064.7 966.8C1065.4 969 1065.6 976.4 1068.4 980.2C1071.3 983.9 1076.5 987 1081.8 989.3C1087.1 991.7 1093.7 993.9 1100.1 994.4C1106.5 994.8 1114 993.9 1120.2 991.9C1126.3 989.8 1131.6 986 1136.9 981.8C1142.1 977.7 1146.9 972.1 1151.9 966.8C1156.9 961.5 1161.9 955.3 1166.9 950.1C1171.9 945 1176.4 940 1181.9 935.9C1187.5 931.9 1193.3 928.4 1200.3 925.9C1207.3 923.4 1215.3 921.6 1223.7 920.9C1232 920.2 1242 920.9 1250.4 921.7C1258.7 922.6 1267.6 924.7 1273.8 925.9C1279.9 927.2 1281.1 928.6 1287.1 929.2C1293.1 929.9 1305.9 929.9 1309.6 930.1" stroke="#1d1d1b" stroke-width="24.2"/><path d="M1064.7 966.8C1065.4 969 1065.6 976.4 1068.4 980.2C1071.3 983.9 1076.5 987 1081.8 989.3C1087.1 991.7 1093.7 993.9 1100.1 994.4C1106.5 994.8 1114 993.9 1120.2 991.9C1126.3 989.8 1131.6 986 1136.9 981.8C1142.1 977.7 1146.9 972.1 1151.9 966.8C1156.9 961.5 1161.9 955.3 1166.9 950.1C1171.9 945 1176.4 940 1181.9 935.9C1187.5 931.9 1193.3 928.4 1200.3 925.9C1207.3 923.4 1215.3 921.6 1223.7 920.9C1232 920.2 1242 920.9 1250.4 921.7C1258.7 922.6 1267.6 924.7 1273.8 925.9C1279.9 927.2 1281.1 928.6 1287.1 929.2C1293.1 929.9 1305.9 929.9 1309.6 930.1" stroke="#676768" stroke-width="17.4"/><path d="M1064.7 966.8C1065.4 969 1065.6 976.4 1068.4 980.2C1071.3 983.9 1076.5 987 1081.8 989.3C1087.1 991.7 1093.7 993.9 1100.1 994.4C1106.5 994.8 1114 993.9 1120.2 991.9C1126.3 989.8 1131.6 986 1136.9 981.8C1142.1 977.7 1146.9 972.1 1151.9 966.8C1156.9 961.5 1161.9 955.3 1166.9 950.1C1171.9 945 1176.4 940 1181.9 935.9C1187.5 931.9 1193.3 928.4 1200.3 925.9C1207.3 923.4 1215.3 921.6 1223.7 920.9C1232 920.2 1242 920.9 1250.4 921.7C1258.7 922.6 1267.6 924.7 1273.8 925.9C1279.9 927.2 1281.1 928.6 1287.1 929.2C1293.1 929.9 1305.9 929.9 1309.6 930.1" stroke="#000000" stroke-width="5.7"/><path d="M1350.2 796.1C1348 792.1 1343 777 1336.8 771.9C1330.7 766.7 1321.5 767.7 1313.5 765.2C1305.4 762.7 1296.8 760.5 1288.4 756.9C1280.1 753.2 1270.1 748.5 1263.4 743.5C1256.7 738.5 1252 732.9 1248.4 726.8C1244.7 720.7 1242 713.7 1241.7 706.8C1241.4 699.8 1243.4 691.5 1246.7 685.1C1250 678.7 1255.6 672.7 1261.7 668.4C1267.8 664.1 1276.2 661 1283.4 659.2C1290.7 657.4 1297.9 656.7 1305.1 657.5C1312.4 658.4 1319.9 660.7 1326.8 664.2C1333.8 667.7 1340.7 673 1346.9 678.4C1353 683.8 1358 689.8 1363.6 696.8C1369.1 703.7 1375.2 712.6 1380.3 720.1C1385.3 727.6 1389.2 734.6 1393.6 741.8C1398.1 749.1 1402.2 757.1 1407 763.5C1411.7 769.9 1416.7 774.9 1422 780.2C1427.3 785.5 1433.7 790.5 1438.7 795.3C1443.7 800 1446.8 802.5 1452 808.6C1457.3 814.7 1464 825 1470.4 832C1476.8 838.9 1483.8 845.6 1490.4 850.4C1497.1 855.1 1503.8 858.4 1510.5 860.4C1517.1 862.3 1524.4 862.9 1530.5 862C1536.6 861.2 1541.6 859 1547.2 855.4C1552.8 851.7 1558.3 845.9 1563.9 840.3C1569.5 834.8 1575 827.4 1580.6 822C1586.1 816.5 1593.1 811.1 1597.3 807.8C1601.5 804.4 1604.2 802.9 1605.6 801.9" stroke="#1d1d1b" stroke-width="24.2"/><path d="M1350.2 796.1C1348 792.1 1343 777 1336.8 771.9C1330.7 766.7 1321.5 767.7 1313.5 765.2C1305.4 762.7 1296.8 760.5 1288.4 756.9C1280.1 753.2 1270.1 748.5 1263.4 743.5C1256.7 738.5 1252 732.9 1248.4 726.8C1244.7 720.7 1242 713.7 1241.7 706.8C1241.4 699.8 1243.4 691.5 1246.7 685.1C1250 678.7 1255.6 672.7 1261.7 668.4C1267.8 664.1 1276.2 661 1283.4 659.2C1290.7 657.4 1297.9 656.7 1305.1 657.5C1312.4 658.4 1319.9 660.7 1326.8 664.2C1333.8 667.7 1340.7 673 1346.9 678.4C1353 683.8 1358 689.8 1363.6 696.8C1369.1 703.7 1375.2 712.6 1380.3 720.1C1385.3 727.6 1389.2 734.6 1393.6 741.8C1398.1 749.1 1402.2 757.1 1407 763.5C1411.7 769.9 1416.7 774.9 1422 780.2C1427.3 785.5 1433.7 790.5 1438.7 795.3C1443.7 800 1446.8 802.5 1452 808.6C1457.3 814.7 1464 825 1470.4 832C1476.8 838.9 1483.8 845.6 1490.4 850.4C1497.1 855.1 1503.8 858.4 1510.5 860.4C1517.1 862.3 1524.4 862.9 1530.5 862C1536.6 861.2 1541.6 859 1547.2 855.4C1552.8 851.7 1558.3 845.9 1563.9 840.3C1569.5 834.8 1575 827.4 1580.6 822C1586.1 816.5 1593.1 811.1 1597.3 807.8C1601.5 804.4 1604.2 802.9 1605.6 801.9" stroke="#676768" stroke-width="17.4"/><path d="M1350.2 796.1C1348 792.1 1343 777 1336.8 771.9C1330.7 766.7 1321.5 767.7 1313.5 765.2C1305.4 762.7 1296.8 760.5 1288.4 756.9C1280.1 753.2 1270.1 748.5 1263.4 743.5C1256.7 738.5 1252 732.9 1248.4 726.8C1244.7 720.7 1242 713.7 1241.7 706.8C1241.4 699.8 1243.4 691.5 1246.7 685.1C1250 678.7 1255.6 672.7 1261.7 668.4C1267.8 664.1 1276.2 661 1283.4 659.2C1290.7 657.4 1297.9 656.7 1305.1 657.5C1312.4 658.4 1319.9 660.7 1326.8 664.2C1333.8 667.7 1340.7 673 1346.9 678.4C1353 683.8 1358 689.8 1363.6 696.8C1369.1 703.7 1375.2 712.6 1380.3 720.1C1385.3 727.6 1389.2 734.6 1393.6 741.8C1398.1 749.1 1402.2 757.1 1407 763.5C1411.7 769.9 1416.7 774.9 1422 780.2C1427.3 785.5 1433.7 790.5 1438.7 795.3C1443.7 800 1446.8 802.5 1452 808.6C1457.3 814.7 1464 825 1470.4 832C1476.8 838.9 1483.8 845.6 1490.4 850.4C1497.1 855.1 1503.8 858.4 1510.5 860.4C1517.1 862.3 1524.4 862.9 1530.5 862C1536.6 861.2 1541.6 859 1547.2 855.4C1552.8 851.7 1558.3 845.9 1563.9 840.3C1569.5 834.8 1575 827.4 1580.6 822C1586.1 816.5 1593.1 811.1 1597.3 807.8C1601.5 804.4 1604.2 802.9 1605.6 801.9" stroke="#9b9b9c" stroke-width="5.7"/><path d="M1396 1091C1398.3 1095 1406.4 1107.2 1410 1115C1413.6 1122.8 1413.3 1130.8 1417.5 1137.5C1421.7 1144.2 1427.9 1150.2 1435 1155C1442.1 1159.8 1451.2 1163.9 1460 1166C1468.8 1168.1 1479.6 1168.7 1487.5 1167.5C1495.4 1166.3 1502.1 1163.2 1507.5 1159C1512.9 1154.8 1518.2 1149.3 1520 1142.5C1521.8 1135.7 1518.3 1122.1 1518 1118" stroke="#1d1d1b" stroke-width="24.2"/><path d="M1396 1091C1398.3 1095 1406.4 1107.2 1410 1115C1413.6 1122.8 1413.3 1130.8 1417.5 1137.5C1421.7 1144.2 1427.9 1150.2 1435 1155C1442.1 1159.8 1451.2 1163.9 1460 1166C1468.8 1168.1 1479.6 1168.7 1487.5 1167.5C1495.4 1166.3 1502.1 1163.2 1507.5 1159C1512.9 1154.8 1518.2 1149.3 1520 1142.5C1521.8 1135.7 1518.3 1122.1 1518 1118" stroke="#676768" stroke-width="17.4"/><path d="M1396 1091C1398.3 1095 1406.4 1107.2 1410 1115C1413.6 1122.8 1413.3 1130.8 1417.5 1137.5C1421.7 1144.2 1427.9 1150.2 1435 1155C1442.1 1159.8 1451.2 1163.9 1460 1166C1468.8 1168.1 1479.6 1168.7 1487.5 1167.5C1495.4 1166.3 1502.1 1163.2 1507.5 1159C1512.9 1154.8 1518.2 1149.3 1520 1142.5C1521.8 1135.7 1518.3 1122.1 1518 1118" stroke="#9b9b9c" stroke-width="5.7"/><path d="M1640 1125C1635.8 1123.2 1620.5 1118.2 1615 1114.5C1609.5 1110.8 1609.3 1107.1 1606.8 1102.8C1604.2 1098.5 1602.2 1094 1599.7 1088.7C1597.2 1083.4 1594.8 1076.5 1591.5 1071C1588.2 1065.5 1583.9 1060.5 1579.8 1055.8C1575.7 1051.1 1571.4 1047.3 1567 1043C1562.6 1038.7 1557.8 1034.1 1553.6 1030C1549.4 1025.9 1546.8 1022.6 1542 1018.6C1537.2 1014.6 1532 1009.3 1525 1006C1518 1002.7 1508 999.7 1500 999C1492 998.3 1483.7 999.2 1477 1002C1470.3 1004.8 1464.2 1010.2 1460 1016C1455.8 1021.8 1452.7 1030.2 1452 1037C1451.3 1043.8 1453 1050.3 1456 1057C1459 1063.7 1464.3 1071.2 1470 1077C1475.7 1082.8 1483.8 1088.2 1490 1092C1496.2 1095.8 1504.2 1098.7 1507 1100" stroke="#1d1d1b" stroke-width="24.2"/><path d="M1640 1125C1635.8 1123.2 1620.5 1118.2 1615 1114.5C1609.5 1110.8 1609.3 1107.1 1606.8 1102.8C1604.2 1098.5 1602.2 1094 1599.7 1088.7C1597.2 1083.4 1594.8 1076.5 1591.5 1071C1588.2 1065.5 1583.9 1060.5 1579.8 1055.8C1575.7 1051.1 1571.4 1047.3 1567 1043C1562.6 1038.7 1557.8 1034.1 1553.6 1030C1549.4 1025.9 1546.8 1022.6 1542 1018.6C1537.2 1014.6 1532 1009.3 1525 1006C1518 1002.7 1508 999.7 1500 999C1492 998.3 1483.7 999.2 1477 1002C1470.3 1004.8 1464.2 1010.2 1460 1016C1455.8 1021.8 1452.7 1030.2 1452 1037C1451.3 1043.8 1453 1050.3 1456 1057C1459 1063.7 1464.3 1071.2 1470 1077C1475.7 1082.8 1483.8 1088.2 1490 1092C1496.2 1095.8 1504.2 1098.7 1507 1100" stroke="#676768" stroke-width="17.4"/><path d="M1640 1125C1635.8 1123.2 1620.5 1118.2 1615 1114.5C1609.5 1110.8 1609.3 1107.1 1606.8 1102.8C1604.2 1098.5 1602.2 1094 1599.7 1088.7C1597.2 1083.4 1594.8 1076.5 1591.5 1071C1588.2 1065.5 1583.9 1060.5 1579.8 1055.8C1575.7 1051.1 1571.4 1047.3 1567 1043C1562.6 1038.7 1557.8 1034.1 1553.6 1030C1549.4 1025.9 1546.8 1022.6 1542 1018.6C1537.2 1014.6 1532 1009.3 1525 1006C1518 1002.7 1508 999.7 1500 999C1492 998.3 1483.7 999.2 1477 1002C1470.3 1004.8 1464.2 1010.2 1460 1016C1455.8 1021.8 1452.7 1030.2 1452 1037C1451.3 1043.8 1453 1050.3 1456 1057C1459 1063.7 1464.3 1071.2 1470 1077C1475.7 1082.8 1483.8 1088.2 1490 1092C1496.2 1095.8 1504.2 1098.7 1507 1100" stroke="#9b9b9c" stroke-width="5.7"/><path d="M2300.6 846.7C2299.8 848.1 2297.8 851.9 2295.5 855.3C2293.2 858.7 2290.6 863.6 2287 867.3C2283.4 871 2279 874.5 2274 877.5C2269 880.5 2264.1 883.1 2257 885.2C2249.9 887.3 2243.3 888.8 2231.3 889.9C2219.3 891 2205.2 892.3 2185 892C2164.8 891.7 2135 890.4 2110 888C2085 885.6 2060 881.5 2035 877.5C2010 873.5 1985 868.8 1960 864C1935 859.2 1910 853.3 1885 849C1860 844.7 1832.5 840.4 1810 838C1787.5 835.6 1768.3 834.3 1750 834.5C1731.7 834.7 1715 836.4 1700 839C1685 841.6 1671.7 845.5 1660 850C1648.3 854.5 1638.5 859.9 1630 866C1621.5 872.1 1616.4 879.4 1608.7 886.7C1601 894 1590 902.2 1583.6 910C1577.2 917.8 1573.1 925.7 1570.3 933.5C1567.5 941.3 1566.2 947.4 1567 956.9C1567.8 966.4 1571.1 981.4 1575.3 990.3C1579.5 999.2 1585.6 1004.2 1592 1010.3C1598.4 1016.4 1606.2 1022 1613.7 1027C1621.2 1032 1629.5 1036.7 1637 1040.3C1644.5 1043.9 1651 1047 1658.8 1048.7C1666.6 1050.4 1675.5 1049.7 1683.8 1050.4C1692.1 1051.1 1701.8 1051.2 1708.8 1053C1715.8 1054.8 1720.5 1056.5 1725.5 1061C1730.5 1065.5 1736.1 1072.7 1738.9 1080C1741.7 1087.3 1743.7 1096.9 1742.3 1105C1740.9 1113.1 1736.7 1121.8 1730.6 1128.5C1724.5 1135.2 1713.8 1141.3 1705.5 1145.2C1697.2 1149.1 1688.8 1151.2 1680.5 1151.8C1672.2 1152.3 1662.2 1150.8 1655.5 1148.5C1648.8 1146.2 1642.6 1139.8 1640 1138" stroke="#1d1d1b" stroke-width="24.2"/><path d="M2300.6 846.7C2299.8 848.1 2297.8 851.9 2295.5 855.3C2293.2 858.7 2290.6 863.6 2287 867.3C2283.4 871 2279 874.5 2274 877.5C2269 880.5 2264.1 883.1 2257 885.2C2249.9 887.3 2243.3 888.8 2231.3 889.9C2219.3 891 2205.2 892.3 2185 892C2164.8 891.7 2135 890.4 2110 888C2085 885.6 2060 881.5 2035 877.5C2010 873.5 1985 868.8 1960 864C1935 859.2 1910 853.3 1885 849C1860 844.7 1832.5 840.4 1810 838C1787.5 835.6 1768.3 834.3 1750 834.5C1731.7 834.7 1715 836.4 1700 839C1685 841.6 1671.7 845.5 1660 850C1648.3 854.5 1638.5 859.9 1630 866C1621.5 872.1 1616.4 879.4 1608.7 886.7C1601 894 1590 902.2 1583.6 910C1577.2 917.8 1573.1 925.7 1570.3 933.5C1567.5 941.3 1566.2 947.4 1567 956.9C1567.8 966.4 1571.1 981.4 1575.3 990.3C1579.5 999.2 1585.6 1004.2 1592 1010.3C1598.4 1016.4 1606.2 1022 1613.7 1027C1621.2 1032 1629.5 1036.7 1637 1040.3C1644.5 1043.9 1651 1047 1658.8 1048.7C1666.6 1050.4 1675.5 1049.7 1683.8 1050.4C1692.1 1051.1 1701.8 1051.2 1708.8 1053C1715.8 1054.8 1720.5 1056.5 1725.5 1061C1730.5 1065.5 1736.1 1072.7 1738.9 1080C1741.7 1087.3 1743.7 1096.9 1742.3 1105C1740.9 1113.1 1736.7 1121.8 1730.6 1128.5C1724.5 1135.2 1713.8 1141.3 1705.5 1145.2C1697.2 1149.1 1688.8 1151.2 1680.5 1151.8C1672.2 1152.3 1662.2 1150.8 1655.5 1148.5C1648.8 1146.2 1642.6 1139.8 1640 1138" stroke="#676768" stroke-width="17.4"/><path d="M2300.6 846.7C2299.8 848.1 2297.8 851.9 2295.5 855.3C2293.2 858.7 2290.6 863.6 2287 867.3C2283.4 871 2279 874.5 2274 877.5C2269 880.5 2264.1 883.1 2257 885.2C2249.9 887.3 2243.3 888.8 2231.3 889.9C2219.3 891 2205.2 892.3 2185 892C2164.8 891.7 2135 890.4 2110 888C2085 885.6 2060 881.5 2035 877.5C2010 873.5 1985 868.8 1960 864C1935 859.2 1910 853.3 1885 849C1860 844.7 1832.5 840.4 1810 838C1787.5 835.6 1768.3 834.3 1750 834.5C1731.7 834.7 1715 836.4 1700 839C1685 841.6 1671.7 845.5 1660 850C1648.3 854.5 1638.5 859.9 1630 866C1621.5 872.1 1616.4 879.4 1608.7 886.7C1601 894 1590 902.2 1583.6 910C1577.2 917.8 1573.1 925.7 1570.3 933.5C1567.5 941.3 1566.2 947.4 1567 956.9C1567.8 966.4 1571.1 981.4 1575.3 990.3C1579.5 999.2 1585.6 1004.2 1592 1010.3C1598.4 1016.4 1606.2 1022 1613.7 1027C1621.2 1032 1629.5 1036.7 1637 1040.3C1644.5 1043.9 1651 1047 1658.8 1048.7C1666.6 1050.4 1675.5 1049.7 1683.8 1050.4C1692.1 1051.1 1701.8 1051.2 1708.8 1053C1715.8 1054.8 1720.5 1056.5 1725.5 1061C1730.5 1065.5 1736.1 1072.7 1738.9 1080C1741.7 1087.3 1743.7 1096.9 1742.3 1105C1740.9 1113.1 1736.7 1121.8 1730.6 1128.5C1724.5 1135.2 1713.8 1141.3 1705.5 1145.2C1697.2 1149.1 1688.8 1151.2 1680.5 1151.8C1672.2 1152.3 1662.2 1150.8 1655.5 1148.5C1648.8 1146.2 1642.6 1139.8 1640 1138" stroke="#9b9b9c" stroke-width="5.7"/><path d="M1385.9 804.8L1415.8 784.3" stroke="#0b0b0b" stroke-width="20"/><path d="M1385.9 804.8L1415.8 784.3" stroke="#747476" stroke-width="11.4"/><path d="M1385.9 804.8L1415.8 784.3" stroke="#000" stroke-width="6.2"/><path d="M1395.8 819.8L1429.1 799.3" stroke="#0b0b0b" stroke-width="20"/><path d="M1395.8 819.8L1429.1 799.3" stroke="#747476" stroke-width="11.4"/><path d="M1395.8 819.8L1429.1 799.3" stroke="#000" stroke-width="6.2"/><path d="M1410.1 833.9L1440.9 812.3" stroke="#0b0b0b" stroke-width="20"/><path d="M1410.1 833.9L1440.9 812.3" stroke="#747476" stroke-width="11.4"/><path d="M1410.1 833.9L1440.9 812.3" stroke="#000" stroke-width="6.2"/><path d="M1423.8 850.5L1447.5 835.3" stroke="#0b0b0b" stroke-width="20"/><path d="M1423.8 850.5L1447.5 835.3" stroke="#747476" stroke-width="11.4"/><path d="M1423.8 850.5L1447.5 835.3" stroke="#000" stroke-width="6.2"/><path d="M1672.9 935.6L1705 972.5" stroke="#0b0b0b" stroke-width="20"/><path d="M1672.9 935.6L1705 972.5" stroke="#747476" stroke-width="11.4"/><path d="M1672.9 935.6L1705 972.5" stroke="#000" stroke-width="6.2"/><path d="M1650 952.9L1686.3 991.8" stroke="#0b0b0b" stroke-width="20"/><path d="M1650 952.9L1686.3 991.8" stroke="#747476" stroke-width="11.4"/><path d="M1650 952.9L1686.3 991.8" stroke="#000" stroke-width="6.2"/><path d="M1624.9 967.8L1665.8 1010.4" stroke="#0b0b0b" stroke-width="20"/><path d="M1624.9 967.8L1665.8 1010.4" stroke="#747476" stroke-width="11.4"/><path d="M1624.9 967.8L1665.8 1010.4" stroke="#000" stroke-width="6.2"/><path d="M1611.5 990.7L1639 1019.7" stroke="#0b0b0b" stroke-width="20"/><path d="M1611.5 990.7L1639 1019.7" stroke="#747476" stroke-width="11.4"/><path d="M1611.5 990.7L1639 1019.7" stroke="#000" stroke-width="6.2"/><path d="M1551.2 1109.5L1581.3 1085.5" stroke="#0b0b0b" stroke-width="20"/><path d="M1551.2 1109.5L1581.3 1085.5" stroke="#747476" stroke-width="11.4"/><path d="M1551.2 1109.5L1581.3 1085.5" stroke="#000" stroke-width="6.2"/><path d="M1560.5 1132.9L1594.3 1105.5" stroke="#0b0b0b" stroke-width="20"/><path d="M1560.5 1132.9L1594.3 1105.5" stroke="#747476" stroke-width="11.4"/><path d="M1560.5 1132.9L1594.3 1105.5" stroke="#000" stroke-width="6.2"/><path d="M1573.9 1142.7L1607.9 1116.3" stroke="#0b0b0b" stroke-width="15.5"/><path d="M1573.9 1142.7L1607.9 1116.3" stroke="#747476" stroke-width="6.9"/><path d="M1573.9 1142.7L1607.9 1116.3" stroke="#000" stroke-width="1.7"/><path d="M1591.5 1148.5L1613.2 1132.7" stroke="#0b0b0b" stroke-width="15.5"/><path d="M1591.5 1148.5L1613.2 1132.7" stroke="#747476" stroke-width="6.9"/><path d="M1591.5 1148.5L1613.2 1132.7" stroke="#000" stroke-width="1.7"/><path d="M1600.9 1159.1L1620.8 1141.5" stroke="#0b0b0b" stroke-width="15.5"/><path d="M1600.9 1159.1L1620.8 1141.5" stroke="#747476" stroke-width="6.9"/><path d="M1600.9 1159.1L1620.8 1141.5" stroke="#000" stroke-width="1.7"/><path d="M1309.7 1137.2L1333.8 1164.4" stroke="#0b0b0b" stroke-width="20.5"/><path d="M1309.7 1137.2L1333.8 1164.4" stroke="#747476" stroke-width="11.9"/><path d="M1309.7 1137.2L1333.8 1164.4" stroke="#000" stroke-width="6.7"/><path d="M1326.3 1124.7L1351.2 1153.6" stroke="#0b0b0b" stroke-width="20.5"/><path d="M1326.3 1124.7L1351.2 1153.6" stroke="#747476" stroke-width="11.9"/><path d="M1326.3 1124.7L1351.2 1153.6" stroke="#000" stroke-width="6.7"/><path d="M1342.1 1110.6L1367 1138.7" stroke="#0b0b0b" stroke-width="20.5"/><path d="M1342.1 1110.6L1367 1138.7" stroke="#747476" stroke-width="11.9"/><path d="M1342.1 1110.6L1367 1138.7" stroke="#000" stroke-width="6.7"/><path d="M1357.8 1096.6L1383.5 1125.5" stroke="#0b0b0b" stroke-width="20.5"/><path d="M1357.8 1096.6L1383.5 1125.5" stroke="#747476" stroke-width="11.9"/><path d="M1357.8 1096.6L1383.5 1125.5" stroke="#000" stroke-width="6.7"/></g>
<circle cx="1268" cy="701.2" r="28.7" fill="url(#gBall)" stroke="#1d1d1b" stroke-width="4.6"/>
<circle cx="1163" cy="781.2" r="28.7" fill="url(#gBall)" stroke="#1d1d1b" stroke-width="4.6"/>
<circle cx="1433" cy="744.5" r="28.7" fill="url(#gBall)" stroke="#1d1d1b" stroke-width="4.6"/>
<circle cx="1350" cy="796.2" r="28.7" fill="url(#gBall)" stroke="#1d1d1b" stroke-width="4.6"/>
<circle cx="1479.8" cy="813.8" r="28.7" fill="url(#gBall)" stroke="#1d1d1b" stroke-width="4.6"/>
<circle cx="1485" cy="916.2" r="28.7" fill="url(#gBall)" stroke="#1d1d1b" stroke-width="4.6"/>
<circle cx="1309.5" cy="929" r="28.7" fill="url(#gBall)" stroke="#1d1d1b" stroke-width="4.6"/>
<circle cx="1235.8" cy="999.5" r="28.7" fill="url(#gBall)" stroke="#1d1d1b" stroke-width="4.6"/>
<circle cx="1387.5" cy="989.5" r="28.7" fill="url(#gBall)" stroke="#1d1d1b" stroke-width="4.6"/>
<circle cx="1426.2" cy="1033.2" r="28.7" fill="url(#gBall)" stroke="#1d1d1b" stroke-width="4.6"/>
<circle cx="1495.2" cy="971.8" r="28.7" fill="url(#gBall)" stroke="#1d1d1b" stroke-width="4.6"/>
<circle cx="1585" cy="960.5" r="28.7" fill="url(#gBall)" stroke="#1d1d1b" stroke-width="4.6"/>
<circle cx="1652.5" cy="881" r="24.3" fill="url(#gBall)" stroke="#1d1d1b" stroke-width="4.6"/>
<circle cx="1631.5" cy="930" r="28.7" fill="url(#gBall)" stroke="#1d1d1b" stroke-width="4.6"/>
<circle cx="1532" cy="1055" r="28.7" fill="url(#gBall)" stroke="#1d1d1b" stroke-width="4.6"/>
<circle cx="1396.2" cy="1091.2" r="28.7" fill="url(#gBall)" stroke="#1d1d1b" stroke-width="4.6"/>
<circle cx="1515" cy="1113.8" r="28.7" fill="url(#gBall)" stroke="#1d1d1b" stroke-width="4.6"/>
<circle cx="1467.5" cy="1102.5" r="28.7" fill="url(#gBall)" stroke="#1d1d1b" stroke-width="4.6"/>
<circle cx="1731.2" cy="987" r="28.7" fill="url(#gBall)" stroke="#1d1d1b" stroke-width="4.6"/>
<circle cx="1648.8" cy="1118.5" r="28.7" fill="url(#gBall)" stroke="#1d1d1b" stroke-width="4.6"/>
<circle cx="1572" cy="1170" r="28.7" fill="url(#gBall)" stroke="#1d1d1b" stroke-width="4.6"/>
<circle cx="1317" cy="1196.2" r="28.7" fill="url(#gBall)" stroke="#1d1d1b" stroke-width="4.6"/>
<g font-family='"Liberation Sans", sans-serif' font-size="65" text-anchor="middle" stroke-linejoin="round"><text transform="translate(2395 783.8) rotate(-6)" x="0" y="22.4" fill="#939598" stroke="#939598" stroke-width="2.4">C</text><text transform="translate(2395 783.8) rotate(26)" x="0" y="22.4" fill="#939598" stroke="#939598" stroke-width="2.4">C</text><text transform="translate(2421.2 750) rotate(199)" x="0" y="22.4" fill="#939598" stroke="#939598" stroke-width="2.4">C</text><text transform="translate(2421.2 750) rotate(231)" x="0" y="22.4" fill="#939598" stroke="#939598" stroke-width="2.4">C</text><text transform="translate(2403.8 706.2) rotate(134)" x="0" y="22.4" fill="#939598" stroke="#939598" stroke-width="2.4">C</text><text transform="translate(2403.8 706.2) rotate(166)" x="0" y="22.4" fill="#939598" stroke="#939598" stroke-width="2.4">C</text><text transform="translate(2375 667.5) rotate(52.8)" x="0" y="22.4" fill="#1d1d1b" stroke="#1d1d1b" stroke-width="1.9">N</text><text transform="translate(2375 667.5) rotate(57.2)" x="0" y="22.4" fill="#1d1d1b" stroke="#1d1d1b" stroke-width="1.9">N</text><text transform="translate(2346.2 625) rotate(62.8)" x="0" y="22.4" fill="#1d1d1b" stroke="#1d1d1b" stroke-width="1.9">N</text><text transform="translate(2346.2 625) rotate(67.2)" x="0" y="22.4" fill="#1d1d1b" stroke="#1d1d1b" stroke-width="1.9">N</text><text transform="translate(2356.2 573.8) rotate(-66)" x="0" y="22.4" fill="#939598" stroke="#939598" stroke-width="2.4">C</text><text transform="translate(2356.2 573.8) rotate(-34)" x="0" y="22.4" fill="#939598" stroke="#939598" stroke-width="2.4">C</text><text transform="translate(2396.2 553.8) rotate(-36)" x="0" y="22.4" fill="#939598" stroke="#939598" stroke-width="2.4">C</text><text transform="translate(2396.2 553.8) rotate(-4)" x="0" y="22.4" fill="#939598" stroke="#939598" stroke-width="2.4">C</text><text transform="translate(2441.2 560) rotate(25)" x="0" y="22.4" fill="#939598" stroke="#939598" stroke-width="2.4">C</text><text transform="translate(2467.5 600) rotate(71.8)" x="0" y="22.4" fill="#1d1d1b" stroke="#1d1d1b" stroke-width="1.9">N</text><text transform="translate(2467.5 600) rotate(76.2)" x="0" y="22.4" fill="#1d1d1b" stroke="#1d1d1b" stroke-width="1.9">N</text><text transform="translate(2477.5 652.5) rotate(64)" x="0" y="22.4" fill="#939598" stroke="#939598" stroke-width="2.4">C</text><text transform="translate(2477.5 652.5) rotate(96)" x="0" y="22.4" fill="#939598" stroke="#939598" stroke-width="2.4">C</text><text transform="translate(2487.5 698.8) rotate(54)" x="0" y="22.4" fill="#939598" stroke="#939598" stroke-width="2.4">C</text><text transform="translate(2487.5 698.8) rotate(86)" x="0" y="22.4" fill="#939598" stroke="#939598" stroke-width="2.4">C</text><text transform="translate(2502.5 742.5) rotate(84)" x="0" y="22.4" fill="#939598" stroke="#939598" stroke-width="2.4">C</text><text transform="translate(2502.5 742.5) rotate(116)" x="0" y="22.4" fill="#939598" stroke="#939598" stroke-width="2.4">C</text><g transform="translate(2502.5 742.5) rotate(100)" fill="none" stroke="#12a650" stroke-width="4.2"><path d="M3.8 -21.4A21.8 21.8 0 0 1 17.8 -12.5"/><path d="M17.8 12.5A21.8 21.8 0 0 1 3.8 21.4"/><path d="M-18.9 10.9A21.8 21.8 0 0 1 -17.8 -12.5"/></g><text transform="translate(2535 773.8) rotate(20.8)" x="0" y="22.4" fill="#1d1d1b" stroke="#1d1d1b" stroke-width="1.9">N</text><text transform="translate(2535 773.8) rotate(25.2)" x="0" y="22.4" fill="#1d1d1b" stroke="#1d1d1b" stroke-width="1.9">N</text><text transform="translate(2585 775) rotate(0)" x="0" y="22.4" fill="#939598" stroke="#939598" stroke-width="2.4">C</text><text transform="translate(2632.5 762) rotate(-15.2)" x="0" y="22.4" fill="#1d1d1b" stroke="#1d1d1b" stroke-width="1.9">N</text><text transform="translate(2632.5 762) rotate(-10.8)" x="0" y="22.4" fill="#1d1d1b" stroke="#1d1d1b" stroke-width="1.9">N</text><text transform="translate(2684 767.5) rotate(20)" x="0" y="22.4" fill="#939598" stroke="#939598" stroke-width="2.4">C</text><text transform="translate(2690 815) rotate(74)" x="0" y="22.4" fill="#939598" stroke="#939598" stroke-width="2.4">C</text><text transform="translate(2690 815) rotate(106)" x="0" y="22.4" fill="#939598" stroke="#939598" stroke-width="2.4">C</text><text transform="translate(2682.5 857.5) rotate(94)" x="0" y="22.4" fill="#939598" stroke="#939598" stroke-width="2.4">C</text><text transform="translate(2682.5 857.5) rotate(126)" x="0" y="22.4" fill="#939598" stroke="#939598" stroke-width="2.4">C</text><text transform="translate(2680 907.5) rotate(77.8)" x="0" y="22.4" fill="#1d1d1b" stroke="#1d1d1b" stroke-width="1.9">N</text><text transform="translate(2680 907.5) rotate(82.2)" x="0" y="22.4" fill="#1d1d1b" stroke="#1d1d1b" stroke-width="1.9">N</text><text transform="translate(2710 945) rotate(20.8)" x="0" y="22.4" fill="#1d1d1b" stroke="#1d1d1b" stroke-width="1.9">N</text><text transform="translate(2710 945) rotate(25.2)" x="0" y="22.4" fill="#1d1d1b" stroke="#1d1d1b" stroke-width="1.9">N</text><text transform="translate(2763.8 946.2) rotate(-26)" x="0" y="22.4" fill="#939598" stroke="#939598" stroke-width="2.4">C</text><text transform="translate(2763.8 946.2) rotate(6)" x="0" y="22.4" fill="#939598" stroke="#939598" stroke-width="2.4">C</text><g transform="translate(2763.8 946.2) rotate(-10)" fill="none" stroke="#12a650" stroke-width="4.2"><path d="M3.8 -21.4A21.8 21.8 0 0 1 17.8 -12.5"/><path d="M17.8 12.5A21.8 21.8 0 0 1 3.8 21.4"/><path d="M-18.9 10.9A21.8 21.8 0 0 1 -17.8 -12.5"/></g><text transform="translate(2806.2 925) rotate(-60)" x="0" y="22.4" fill="#939598" stroke="#939598" stroke-width="2.4">C</text><text transform="translate(2817.5 887.5) rotate(-106)" x="0" y="22.4" fill="#939598" stroke="#939598" stroke-width="2.4">C</text><text transform="translate(2817.5 887.5) rotate(-74)" x="0" y="22.4" fill="#939598" stroke="#939598" stroke-width="2.4">C</text><text transform="translate(2805 837.5) rotate(-126)" x="0" y="22.4" fill="#939598" stroke="#939598" stroke-width="2.4">C</text><text transform="translate(2805 837.5) rotate(-94)" x="0" y="22.4" fill="#939598" stroke="#939598" stroke-width="2.4">C</text><g transform="translate(2805 837.5) rotate(-110)" fill="none" stroke="#12a650" stroke-width="4.2"><path d="M3.8 -21.4A21.8 21.8 0 0 1 17.8 -12.5"/><path d="M17.8 12.5A21.8 21.8 0 0 1 3.8 21.4"/><path d="M-18.9 10.9A21.8 21.8 0 0 1 -17.8 -12.5"/></g><text transform="translate(2790 793.8) rotate(-136)" x="0" y="22.4" fill="#939598" stroke="#939598" stroke-width="2.4">C</text><text transform="translate(2790 793.8) rotate(-104)" x="0" y="22.4" fill="#939598" stroke="#939598" stroke-width="2.4">C</text><text transform="translate(2777.5 748.8) rotate(79.8)" x="0" y="22.4" fill="#1d1d1b" stroke="#1d1d1b" stroke-width="1.9">N</text><text transform="translate(2777.5 748.8) rotate(84.2)" x="0" y="22.4" fill="#1d1d1b" stroke="#1d1d1b" stroke-width="1.9">N</text></g>
<circle cx="2344.5" cy="732.5" r="23.1" fill="url(#gBall)" stroke="#1d1d1b" stroke-width="4.3"/>
<circle cx="2580" cy="840" r="28.1" fill="url(#gBall)" stroke="#1d1d1b" stroke-width="4.6"/>
<path d="M2787 726C2788.2 723.7 2790.2 715.9 2794 712C2797.8 708.1 2803.2 704.7 2810 702.5C2816.8 700.3 2825.8 698.4 2835 699C2844.2 699.6 2855.8 705.4 2865 706C2874.2 706.6 2882.2 705 2890 702.5C2897.8 700 2908.3 692.9 2912 691" fill="none" stroke="#1d1d1b" stroke-width="15" stroke-linecap="butt"/>
<path d="M2960 646L2994 625" fill="none" stroke="#1d1d1b" stroke-width="14"/>
<circle cx="2985" cy="677.5" r="36.1" fill="url(#gBall)" stroke="#1d1d1b" stroke-width="4.8"/>
<circle cx="2911.8" cy="671.2" r="22.2" fill="url(#gBall)" stroke="#1d1d1b" stroke-width="4.3"/>
<circle cx="2944.5" cy="650" r="21.7" fill="url(#gBall)" stroke="#1d1d1b" stroke-width="4.3"/>
<circle cx="2940" cy="702.5" r="27.8" fill="url(#gBall)" stroke="#1d1d1b" stroke-width="4.5"/>
<text transform="translate(2997 637) rotate(-44.8) scale(0.972 1)" font-family='"Liberation Sans", sans-serif' font-size="54.8" fill="#1d1d1b">AAAAAAA</text>
<path d="M3017.5 798.8C3024.6 807.3 3047.5 832.3 3060 850C3072.5 867.7 3083.8 886.2 3092.5 905C3101.2 923.8 3107.8 944.6 3112.5 962.5C3117.2 980.4 3119.3 995.9 3121 1012.5C3122.7 1029.1 3123 1047.4 3122.5 1062C3122 1076.6 3120.6 1087 3118 1100C3115.4 1113 3111.7 1125 3107 1140C3102.3 1155 3097 1173.7 3090 1190C3083 1206.3 3074.2 1221.8 3065 1237.6C3055.8 1253.4 3045.4 1271 3035 1285C3024.6 1299 3010 1313.2 3002.5 1321.5C2995 1329.8 2992.1 1332.8 2990 1335" fill="none" stroke="#d9d9da" stroke-width="7.8" stroke-linecap="butt"/>
<path d="M2952 1376L2968.5 1307L3021.5 1355.5Z" fill="#d9d9da"/>
<path d="M2414 1518.5C2405 1520.4 2377.3 1526.5 2360 1530C2342.7 1533.5 2336.3 1535.1 2310 1539.5C2283.7 1543.9 2232.2 1552.2 2202 1556.5C2171.8 1560.8 2152.7 1563.1 2129 1565.5C2105.3 1567.9 2082.3 1569.6 2060 1571C2037.7 1572.4 2018.3 1573.5 1995 1573.8C1971.7 1574.1 1944.3 1573.7 1920 1573C1895.7 1572.3 1872.7 1571.7 1849.4 1569.5C1826.1 1567.3 1803.3 1564.1 1780 1560C1756.7 1555.9 1730.4 1550.5 1709.6 1545C1688.8 1539.5 1672.5 1534 1655 1527C1637.5 1520 1617.3 1509.5 1604.8 1503C1592.3 1496.5 1584.1 1490.5 1580 1488" fill="none" stroke="#d9d9da" stroke-width="7.8" stroke-linecap="round"/>
<path d="M1528 1448.6L1606 1475L1546 1527Z" fill="#d9d9da"/>
<g fill="none" stroke-linecap="round" stroke-linejoin="round"><path d="M2451.2 1499.5C2455.2 1500.7 2466.9 1505.7 2475 1506.5C2483.1 1507.3 2491.8 1507.1 2500 1504.5C2508.2 1501.9 2517.6 1497.1 2524.5 1490.8C2531.4 1484.4 2537.2 1475.5 2541.2 1466.2C2545.2 1457 2547.7 1445.1 2548.5 1435C2549.3 1424.9 2548.5 1413.9 2546.2 1405.5C2544 1397.1 2540.1 1389.7 2535 1384.5C2529.9 1379.3 2522 1376 2515.5 1374.2C2509 1372.5 2502 1372.5 2496 1374.2C2490 1376 2483.7 1379.7 2479.5 1384.5C2475.3 1389.3 2472.6 1396.5 2471 1403C2469.4 1409.5 2468.8 1416.8 2469.8 1423.8C2470.7 1430.7 2472.6 1438.2 2476.5 1444.5C2480.4 1450.8 2486.6 1457.3 2493 1461.5C2499.4 1465.7 2507.2 1468.5 2515 1469.5C2522.8 1470.5 2532.1 1469.4 2540 1467.5C2547.9 1465.6 2555 1462.1 2562.5 1458C2570 1453.9 2577.9 1448.3 2585 1443C2592.1 1437.7 2599.2 1431.3 2605 1426.2C2610.8 1421.2 2617.5 1414.8 2620 1412.5" stroke="#1d1d1b" stroke-width="28.5"/><path d="M2451.2 1499.5C2455.2 1500.7 2466.9 1505.7 2475 1506.5C2483.1 1507.3 2491.8 1507.1 2500 1504.5C2508.2 1501.9 2517.6 1497.1 2524.5 1490.8C2531.4 1484.4 2537.2 1475.5 2541.2 1466.2C2545.2 1457 2547.7 1445.1 2548.5 1435C2549.3 1424.9 2548.5 1413.9 2546.2 1405.5C2544 1397.1 2540.1 1389.7 2535 1384.5C2529.9 1379.3 2522 1376 2515.5 1374.2C2509 1372.5 2502 1372.5 2496 1374.2C2490 1376 2483.7 1379.7 2479.5 1384.5C2475.3 1389.3 2472.6 1396.5 2471 1403C2469.4 1409.5 2468.8 1416.8 2469.8 1423.8C2470.7 1430.7 2472.6 1438.2 2476.5 1444.5C2480.4 1450.8 2486.6 1457.3 2493 1461.5C2499.4 1465.7 2507.2 1468.5 2515 1469.5C2522.8 1470.5 2532.1 1469.4 2540 1467.5C2547.9 1465.6 2555 1462.1 2562.5 1458C2570 1453.9 2577.9 1448.3 2585 1443C2592.1 1437.7 2599.2 1431.3 2605 1426.2C2610.8 1421.2 2617.5 1414.8 2620 1412.5" stroke="#c8202c" stroke-width="13.5"/><path d="M2735 1436.2C2738.3 1435.4 2749.2 1434 2755 1431.2C2760.8 1428.5 2765.8 1424.8 2770 1420C2774.2 1415.2 2777.1 1408.3 2780.5 1402.5C2783.9 1396.7 2786.8 1389.8 2790.5 1385C2794.2 1380.2 2798.6 1375.6 2803 1373.8C2807.4 1371.9 2813 1371.7 2817 1373.8C2821 1375.8 2824.8 1381.2 2827 1386.2C2829.2 1391.2 2829.5 1397.9 2830 1403.8C2830.5 1409.6 2829.2 1415.5 2830 1421.2C2830.8 1427 2832.1 1433.6 2835 1438C2837.9 1442.4 2842.9 1446.5 2847.5 1447.5C2852.1 1448.5 2857.1 1445.6 2862.5 1443.8C2867.9 1441.9 2877.1 1437.5 2880 1436.2" stroke="#1d1d1b" stroke-width="28.5"/><path d="M2735 1436.2C2738.3 1435.4 2749.2 1434 2755 1431.2C2760.8 1428.5 2765.8 1424.8 2770 1420C2774.2 1415.2 2777.1 1408.3 2780.5 1402.5C2783.9 1396.7 2786.8 1389.8 2790.5 1385C2794.2 1380.2 2798.6 1375.6 2803 1373.8C2807.4 1371.9 2813 1371.7 2817 1373.8C2821 1375.8 2824.8 1381.2 2827 1386.2C2829.2 1391.2 2829.5 1397.9 2830 1403.8C2830.5 1409.6 2829.2 1415.5 2830 1421.2C2830.8 1427 2832.1 1433.6 2835 1438C2837.9 1442.4 2842.9 1446.5 2847.5 1447.5C2852.1 1448.5 2857.1 1445.6 2862.5 1443.8C2867.9 1441.9 2877.1 1437.5 2880 1436.2" stroke="#c8202c" stroke-width="13.5"/><path d="M2475 1506.5C2479.2 1506.2 2491.8 1507.1 2500 1504.5C2508.2 1501.9 2517.6 1497.1 2524.5 1490.8C2531.4 1484.4 2537.2 1475.5 2541.2 1466.2C2545.2 1457 2547.7 1445.1 2548.5 1435C2549.3 1424.9 2548.5 1413.9 2546.2 1405.5C2544 1397.1 2536.9 1388 2535 1384.5" stroke="#1d1d1b" stroke-width="28.5" stroke-linecap="butt"/><path d="M2451.2 1499.5C2455.2 1500.7 2466.9 1505.7 2475 1506.5C2483.1 1507.3 2491.8 1507.1 2500 1504.5C2508.2 1501.9 2517.6 1497.1 2524.5 1490.8C2531.4 1484.4 2537.2 1475.5 2541.2 1466.2C2545.2 1457 2547.7 1445.1 2548.5 1435C2549.3 1424.9 2548.5 1413.9 2546.2 1405.5C2544 1397.1 2540.1 1389.7 2535 1384.5C2529.9 1379.3 2518.8 1376 2515.5 1374.2" stroke="#c8202c" stroke-width="13.5"/></g>
<circle cx="2700" cy="1386.25" r="33.75" fill="#fefefe" stroke="#1d1d1b" stroke-width="7.5"/>
<circle cx="2640" cy="1378.75" r="56.25" fill="#1d1d1b"/><circle cx="2678.75" cy="1430" r="61.25" fill="#1d1d1b"/>
<circle cx="2640" cy="1378.75" r="48.75" fill="#fefefe"/><circle cx="2678.75" cy="1430" r="53.75" fill="#fefefe"/>
<path d="M1800 937.5L1868.75 992.5M1766 1099.5L1866 1076M1338.75 1218.75L1388.75 1273M1565 1200L1513.75 1273" stroke="#1d1d1b" stroke-width="1.6" fill="none"/>
<g font-family='"Liberation Sans", sans-serif' fill="#1d1d1b"><text transform="translate(1728 740.3) scale(1.0512 1)" font-size="46.9">Deconvolved features of</text><text transform="translate(1705.2 795.3) scale(1.0506 1)" font-size="46.9">condensation-prone RNAs</text><text transform="translate(1892.2 1074.5) scale(1.0488 1)" font-size="119.9">RNA</text><text transform="translate(2341.7 1075.9) scale(1.1200 1)" font-size="51.9">-</text><text transform="translate(2417.2 1075.9) scale(1.0349 1)" font-size="51.9">lower sequence complexity</text><text transform="translate(2409.2 1136.1) scale(1.1200 1)" font-size="51.9">-</text><text transform="translate(2484.4 1136.1) scale(1.0357 1)" font-size="51.9">intramolecular folding</text><text transform="translate(2391.8 1196.2) scale(1.1200 1)" font-size="51.9">-</text><text transform="translate(2466.8 1196.2) scale(1.0340 1)" font-size="51.9">higher RBP occupancy</text><text transform="translate(1755.2 1495.9) scale(1.0428 1)" font-size="51.5">smOOPs translate into</text><text transform="translate(1730.9 1555.7) scale(1.0431 1)" font-size="51.5">disordered proteins, also</text><text transform="translate(1789.1 1616.2) scale(1.0429 1)" font-size="51.5">condensation prone</text><text transform="translate(1322.3 1313.7) scale(1.0554 1)" font-size="41">RNA-binding</text><text transform="translate(1368.2 1361.6) scale(1.0554 1)" font-size="41">proteins</text></g></svg></body></html>
